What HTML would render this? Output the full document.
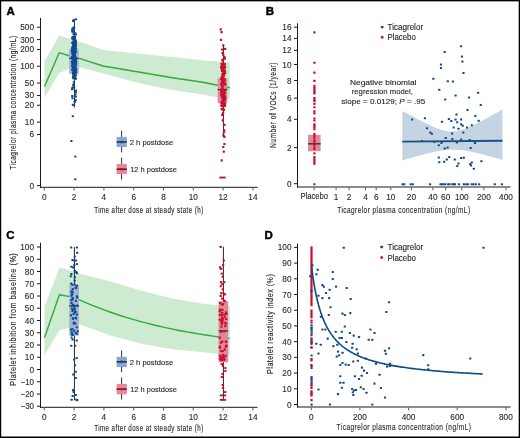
<!DOCTYPE html>
<html><head><meta charset="utf-8"><style>
html,body{margin:0;padding:0;background:#fff;}
body{width:520px;height:438px;overflow:hidden;}
svg{display:block;font-family:"Liberation Sans",sans-serif;will-change:transform;}
</style></head><body>
<svg width="520" height="438" viewBox="0 0 520 438">
<rect x="0" y="0" width="520" height="438" fill="#fff"/>
<text x="6.6" y="15.2" font-size="11.5" font-weight="bold" fill="#000" stroke="#000" stroke-width="0.4">A</text>
<polygon points="44.5,61.5 59.2,35.4 74.3,40.2 80,41.7 103.1,50 141.5,54 172.3,57.1 203,60.2 229.8,62.3 229.8,99.4 203,94.6 172.3,90 141.5,83.8 103.1,73.6 80,67.5 74.3,66.6 59.2,73.1 44.5,98.1" fill="#cdebd1"/>
<polyline points="44.5,86.5 59.2,52.7 74.3,57.5 80,58.6 103.1,66 141.5,72.5 172.3,77.7 203,82.3 229.8,87.8" fill="none" stroke="#35a83a" stroke-width="1.4" stroke-linejoin="round"/>
<line x1="40.5" y1="18" x2="40.5" y2="187.8" stroke="#1a1a1a" stroke-width="1"/>
<line x1="40" y1="187.3" x2="257.5" y2="187.3" stroke="#1a1a1a" stroke-width="1"/>
<line x1="37" y1="27.2" x2="40.5" y2="27.2" stroke="#1a1a1a" stroke-width="1"/>
<text x="34" y="30.2" font-size="8.8" text-anchor="end" textLength="13.8" lengthAdjust="spacingAndGlyphs" fill="#2a2a2a" stroke="#2a2a2a" stroke-width="0.12">500</text>
<line x1="37" y1="39.59" x2="40.5" y2="39.59" stroke="#1a1a1a" stroke-width="1"/>
<text x="34" y="42.59" font-size="8.8" text-anchor="end" textLength="13.8" lengthAdjust="spacingAndGlyphs" fill="#2a2a2a" stroke="#2a2a2a" stroke-width="0.12">300</text>
<line x1="37" y1="49.42" x2="40.5" y2="49.42" stroke="#1a1a1a" stroke-width="1"/>
<text x="34" y="52.42" font-size="8.8" text-anchor="end" textLength="13.8" lengthAdjust="spacingAndGlyphs" fill="#2a2a2a" stroke="#2a2a2a" stroke-width="0.12">200</text>
<line x1="37" y1="66.24" x2="40.5" y2="66.24" stroke="#1a1a1a" stroke-width="1"/>
<text x="34" y="69.24" font-size="8.8" text-anchor="end" textLength="13.8" lengthAdjust="spacingAndGlyphs" fill="#2a2a2a" stroke="#2a2a2a" stroke-width="0.12">100</text>
<line x1="37" y1="83.06" x2="40.5" y2="83.06" stroke="#1a1a1a" stroke-width="1"/>
<text x="34" y="86.06" font-size="8.8" text-anchor="end" textLength="9.2" lengthAdjust="spacingAndGlyphs" fill="#2a2a2a" stroke="#2a2a2a" stroke-width="0.12">50</text>
<line x1="37" y1="95.45" x2="40.5" y2="95.45" stroke="#1a1a1a" stroke-width="1"/>
<text x="34" y="98.45" font-size="8.8" text-anchor="end" textLength="9.2" lengthAdjust="spacingAndGlyphs" fill="#2a2a2a" stroke="#2a2a2a" stroke-width="0.12">30</text>
<line x1="37" y1="105.28" x2="40.5" y2="105.28" stroke="#1a1a1a" stroke-width="1"/>
<text x="34" y="108.28" font-size="8.8" text-anchor="end" textLength="9.2" lengthAdjust="spacingAndGlyphs" fill="#2a2a2a" stroke="#2a2a2a" stroke-width="0.12">20</text>
<line x1="37" y1="122.1" x2="40.5" y2="122.1" stroke="#1a1a1a" stroke-width="1"/>
<text x="34" y="125.1" font-size="8.8" text-anchor="end" textLength="9.2" lengthAdjust="spacingAndGlyphs" fill="#2a2a2a" stroke="#2a2a2a" stroke-width="0.12">10</text>
<line x1="37" y1="134.49" x2="40.5" y2="134.49" stroke="#1a1a1a" stroke-width="1"/>
<text x="34" y="137.49" font-size="8.8" text-anchor="end" textLength="4.6" lengthAdjust="spacingAndGlyphs" fill="#2a2a2a" stroke="#2a2a2a" stroke-width="0.12">6</text>
<line x1="37" y1="185.6" x2="40.5" y2="185.6" stroke="#1a1a1a" stroke-width="1"/>
<text x="34" y="188.6" font-size="8.8" text-anchor="end" textLength="4.6" lengthAdjust="spacingAndGlyphs" fill="#2a2a2a" stroke="#2a2a2a" stroke-width="0.12">0</text>
<line x1="44.3" y1="187.5" x2="44.3" y2="190.6" stroke="#666" stroke-width="1.1"/>
<text x="44.3" y="199.9" font-size="8.8" text-anchor="middle" textLength="4.6" lengthAdjust="spacingAndGlyphs" fill="#2a2a2a" stroke="#2a2a2a" stroke-width="0.12">0</text>
<line x1="74.1" y1="187.5" x2="74.1" y2="190.6" stroke="#666" stroke-width="1.1"/>
<text x="74.1" y="199.9" font-size="8.8" text-anchor="middle" textLength="4.6" lengthAdjust="spacingAndGlyphs" fill="#2a2a2a" stroke="#2a2a2a" stroke-width="0.12">2</text>
<line x1="103.9" y1="187.5" x2="103.9" y2="190.6" stroke="#666" stroke-width="1.1"/>
<text x="103.9" y="199.9" font-size="8.8" text-anchor="middle" textLength="4.6" lengthAdjust="spacingAndGlyphs" fill="#2a2a2a" stroke="#2a2a2a" stroke-width="0.12">4</text>
<line x1="133.7" y1="187.5" x2="133.7" y2="190.6" stroke="#666" stroke-width="1.1"/>
<text x="133.7" y="199.9" font-size="8.8" text-anchor="middle" textLength="4.6" lengthAdjust="spacingAndGlyphs" fill="#2a2a2a" stroke="#2a2a2a" stroke-width="0.12">6</text>
<line x1="163.5" y1="187.5" x2="163.5" y2="190.6" stroke="#666" stroke-width="1.1"/>
<text x="163.5" y="199.9" font-size="8.8" text-anchor="middle" textLength="4.6" lengthAdjust="spacingAndGlyphs" fill="#2a2a2a" stroke="#2a2a2a" stroke-width="0.12">8</text>
<line x1="193.3" y1="187.5" x2="193.3" y2="190.6" stroke="#666" stroke-width="1.1"/>
<text x="193.3" y="199.9" font-size="8.8" text-anchor="middle" textLength="9.2" lengthAdjust="spacingAndGlyphs" fill="#2a2a2a" stroke="#2a2a2a" stroke-width="0.12">10</text>
<line x1="223.1" y1="187.5" x2="223.1" y2="190.6" stroke="#666" stroke-width="1.1"/>
<text x="223.1" y="199.9" font-size="8.8" text-anchor="middle" textLength="9.2" lengthAdjust="spacingAndGlyphs" fill="#2a2a2a" stroke="#2a2a2a" stroke-width="0.12">12</text>
<line x1="252.9" y1="187.5" x2="252.9" y2="190.6" stroke="#666" stroke-width="1.1"/>
<text x="252.9" y="199.9" font-size="8.8" text-anchor="middle" textLength="9.2" lengthAdjust="spacingAndGlyphs" fill="#2a2a2a" stroke="#2a2a2a" stroke-width="0.12">14</text>
<text x="148.9" y="212.9" font-size="9.8" text-anchor="middle" textLength="109.5" lengthAdjust="spacingAndGlyphs" fill="#231f20" stroke="#231f20" stroke-width="0.14" letter-spacing="0.7">Time after dose at steady state (h)</text>
<text x="16.3" y="102.5" font-size="9.8" text-anchor="middle" textLength="134" lengthAdjust="spacingAndGlyphs" transform="rotate(-90 16.3 102.5)" fill="#231f20" stroke="#231f20" stroke-width="0.14" letter-spacing="0.7">Ticagrelor plasma concentration (ng/mL)</text>
<line x1="74.45" y1="19.5" x2="74.45" y2="107.5" stroke="#3a3a3a" stroke-width="1.1"/>
<rect x="69.1" y="48.8" width="9.7" height="25" fill="#a0b6d6"/>
<line x1="69.1" y1="58.3" x2="78.8" y2="58.3" stroke="#333" stroke-width="1.3"/>
<rect x="74.9" y="18.28" width="2.2" height="2.05" rx="0.55" fill="#114a8c"/>
<rect x="72.6" y="19.08" width="2.2" height="2.05" rx="0.55" fill="#114a8c"/>
<rect x="72" y="19.88" width="2.2" height="2.05" rx="0.55" fill="#114a8c"/>
<rect x="71.45" y="27.56" width="2.3" height="2.15" rx="0.55" fill="#114a8c"/>
<rect x="71.14" y="28.7" width="2.3" height="2.15" rx="0.55" fill="#114a8c"/>
<rect x="72.31" y="28.3" width="2.3" height="2.15" rx="0.55" fill="#114a8c"/>
<rect x="72.88" y="26.63" width="2.3" height="2.15" rx="0.55" fill="#114a8c"/>
<rect x="72.58" y="26.56" width="2.3" height="2.15" rx="0.55" fill="#114a8c"/>
<rect x="71.21" y="30.31" width="2.3" height="2.15" rx="0.55" fill="#114a8c"/>
<rect x="74.16" y="32.26" width="2.3" height="2.15" rx="0.55" fill="#114a8c"/>
<rect x="71.74" y="30.61" width="2.3" height="2.15" rx="0.55" fill="#114a8c"/>
<rect x="74.64" y="33.38" width="2.3" height="2.15" rx="0.55" fill="#114a8c"/>
<rect x="72.43" y="33.1" width="2.3" height="2.15" rx="0.55" fill="#114a8c"/>
<rect x="71.03" y="46.65" width="2.3" height="2.15" rx="0.55" fill="#114a8c"/>
<rect x="72.01" y="45.3" width="2.3" height="2.15" rx="0.55" fill="#114a8c"/>
<rect x="71.32" y="37.09" width="2.3" height="2.15" rx="0.55" fill="#114a8c"/>
<rect x="74.11" y="38.97" width="2.3" height="2.15" rx="0.55" fill="#114a8c"/>
<rect x="73.17" y="37.5" width="2.3" height="2.15" rx="0.55" fill="#114a8c"/>
<rect x="72.34" y="42.77" width="2.3" height="2.15" rx="0.55" fill="#114a8c"/>
<rect x="71.1" y="41.73" width="2.3" height="2.15" rx="0.55" fill="#114a8c"/>
<rect x="71.67" y="36.11" width="2.3" height="2.15" rx="0.55" fill="#114a8c"/>
<rect x="72.56" y="43.25" width="2.3" height="2.15" rx="0.55" fill="#114a8c"/>
<rect x="73.19" y="39.04" width="2.3" height="2.15" rx="0.55" fill="#114a8c"/>
<rect x="72.05" y="40.64" width="2.3" height="2.15" rx="0.55" fill="#114a8c"/>
<rect x="73.64" y="44.56" width="2.3" height="2.15" rx="0.55" fill="#114a8c"/>
<rect x="73.15" y="38.23" width="2.3" height="2.15" rx="0.55" fill="#114a8c"/>
<rect x="74.35" y="41.47" width="2.3" height="2.15" rx="0.55" fill="#114a8c"/>
<rect x="72" y="43.81" width="2.3" height="2.15" rx="0.55" fill="#114a8c"/>
<rect x="71.32" y="46.7" width="2.3" height="2.15" rx="0.55" fill="#114a8c"/>
<rect x="73.88" y="40.23" width="2.3" height="2.15" rx="0.55" fill="#114a8c"/>
<rect x="72.8" y="37.17" width="2.3" height="2.15" rx="0.55" fill="#114a8c"/>
<rect x="73.52" y="35.88" width="2.3" height="2.15" rx="0.55" fill="#114a8c"/>
<rect x="73.14" y="44.22" width="2.3" height="2.15" rx="0.55" fill="#114a8c"/>
<rect x="72.1" y="45.49" width="2.3" height="2.15" rx="0.55" fill="#114a8c"/>
<rect x="73.23" y="43.42" width="2.3" height="2.15" rx="0.55" fill="#114a8c"/>
<rect x="72.67" y="42.09" width="2.3" height="2.15" rx="0.55" fill="#114a8c"/>
<rect x="74.63" y="45.09" width="2.3" height="2.15" rx="0.55" fill="#114a8c"/>
<rect x="73.5" y="40.88" width="2.3" height="2.15" rx="0.55" fill="#114a8c"/>
<rect x="73.65" y="36.12" width="2.3" height="2.15" rx="0.55" fill="#114a8c"/>
<rect x="74.82" y="42.87" width="2.3" height="2.15" rx="0.55" fill="#114a8c"/>
<rect x="71.99" y="44.88" width="2.3" height="2.15" rx="0.55" fill="#114a8c"/>
<rect x="73.52" y="39.86" width="2.3" height="2.15" rx="0.55" fill="#114a8c"/>
<rect x="72.69" y="35.69" width="2.3" height="2.15" rx="0.55" fill="#114a8c"/>
<rect x="71.32" y="37.36" width="2.3" height="2.15" rx="0.55" fill="#114a8c"/>
<rect x="73.92" y="36.1" width="2.3" height="2.15" rx="0.55" fill="#114a8c"/>
<rect x="71.84" y="36.91" width="2.3" height="2.15" rx="0.55" fill="#114a8c"/>
<rect x="74.33" y="39.92" width="2.3" height="2.15" rx="0.55" fill="#114a8c"/>
<rect x="72.64" y="36.35" width="2.3" height="2.15" rx="0.55" fill="#114a8c"/>
<rect x="74.38" y="41.74" width="2.3" height="2.15" rx="0.55" fill="#114a8c"/>
<rect x="74.3" y="44.85" width="2.3" height="2.15" rx="0.55" fill="#114a8c"/>
<rect x="72.51" y="38.63" width="2.3" height="2.15" rx="0.55" fill="#114a8c"/>
<rect x="74.38" y="39.55" width="2.3" height="2.15" rx="0.55" fill="#114a8c"/>
<rect x="71.45" y="46.44" width="2.3" height="2.15" rx="0.55" fill="#114a8c"/>
<rect x="71.78" y="51.51" width="2.3" height="2.15" rx="0.55" fill="#114a8c"/>
<rect x="72.79" y="52.99" width="2.3" height="2.15" rx="0.55" fill="#114a8c"/>
<rect x="71.9" y="62.24" width="2.3" height="2.15" rx="0.55" fill="#114a8c"/>
<rect x="72.52" y="47.03" width="2.3" height="2.15" rx="0.55" fill="#114a8c"/>
<rect x="73.11" y="56.53" width="2.3" height="2.15" rx="0.55" fill="#114a8c"/>
<rect x="73.61" y="71.71" width="2.3" height="2.15" rx="0.55" fill="#114a8c"/>
<rect x="73.32" y="60.33" width="2.3" height="2.15" rx="0.55" fill="#114a8c"/>
<rect x="71.06" y="64.51" width="2.3" height="2.15" rx="0.55" fill="#114a8c"/>
<rect x="73.97" y="70.31" width="2.3" height="2.15" rx="0.55" fill="#114a8c"/>
<rect x="74.04" y="69.66" width="2.3" height="2.15" rx="0.55" fill="#114a8c"/>
<rect x="72.44" y="57.13" width="2.3" height="2.15" rx="0.55" fill="#114a8c"/>
<rect x="73.38" y="49.62" width="2.3" height="2.15" rx="0.55" fill="#114a8c"/>
<rect x="71.12" y="48.54" width="2.3" height="2.15" rx="0.55" fill="#114a8c"/>
<rect x="71.5" y="52.35" width="2.3" height="2.15" rx="0.55" fill="#114a8c"/>
<rect x="71.06" y="55.77" width="2.3" height="2.15" rx="0.55" fill="#114a8c"/>
<rect x="71.45" y="46.93" width="2.3" height="2.15" rx="0.55" fill="#114a8c"/>
<rect x="72.3" y="49.56" width="2.3" height="2.15" rx="0.55" fill="#114a8c"/>
<rect x="74.34" y="47.59" width="2.3" height="2.15" rx="0.55" fill="#114a8c"/>
<rect x="71.44" y="62.89" width="2.3" height="2.15" rx="0.55" fill="#114a8c"/>
<rect x="72.24" y="53.48" width="2.3" height="2.15" rx="0.55" fill="#114a8c"/>
<rect x="71.34" y="56.39" width="2.3" height="2.15" rx="0.55" fill="#114a8c"/>
<rect x="74.82" y="69" width="2.3" height="2.15" rx="0.55" fill="#114a8c"/>
<rect x="72.78" y="59.04" width="2.3" height="2.15" rx="0.55" fill="#114a8c"/>
<rect x="71.26" y="49.16" width="2.3" height="2.15" rx="0.55" fill="#114a8c"/>
<rect x="71.91" y="55.83" width="2.3" height="2.15" rx="0.55" fill="#114a8c"/>
<rect x="71.49" y="68.48" width="2.3" height="2.15" rx="0.55" fill="#114a8c"/>
<rect x="74.65" y="47.53" width="2.3" height="2.15" rx="0.55" fill="#114a8c"/>
<rect x="71.43" y="60.66" width="2.3" height="2.15" rx="0.55" fill="#114a8c"/>
<rect x="70.96" y="61.05" width="2.3" height="2.15" rx="0.55" fill="#114a8c"/>
<rect x="74.76" y="60.66" width="2.3" height="2.15" rx="0.55" fill="#114a8c"/>
<rect x="73.63" y="69.37" width="2.3" height="2.15" rx="0.55" fill="#114a8c"/>
<rect x="72.31" y="53.72" width="2.3" height="2.15" rx="0.55" fill="#114a8c"/>
<rect x="73.94" y="51.27" width="2.3" height="2.15" rx="0.55" fill="#114a8c"/>
<rect x="73.96" y="60.77" width="2.3" height="2.15" rx="0.55" fill="#114a8c"/>
<rect x="71.74" y="55.5" width="2.3" height="2.15" rx="0.55" fill="#114a8c"/>
<rect x="74.79" y="68.03" width="2.3" height="2.15" rx="0.55" fill="#114a8c"/>
<rect x="74.07" y="69.09" width="2.3" height="2.15" rx="0.55" fill="#114a8c"/>
<rect x="73.81" y="68.2" width="2.3" height="2.15" rx="0.55" fill="#114a8c"/>
<rect x="72.92" y="52.82" width="2.3" height="2.15" rx="0.55" fill="#114a8c"/>
<rect x="70.96" y="56.17" width="2.3" height="2.15" rx="0.55" fill="#114a8c"/>
<rect x="71.97" y="47.65" width="2.3" height="2.15" rx="0.55" fill="#114a8c"/>
<rect x="73.62" y="53.66" width="2.3" height="2.15" rx="0.55" fill="#114a8c"/>
<rect x="72.64" y="71.8" width="2.3" height="2.15" rx="0.55" fill="#114a8c"/>
<rect x="74.8" y="71.29" width="2.3" height="2.15" rx="0.55" fill="#114a8c"/>
<rect x="72.31" y="71.76" width="2.3" height="2.15" rx="0.55" fill="#114a8c"/>
<rect x="71.76" y="52.66" width="2.3" height="2.15" rx="0.55" fill="#114a8c"/>
<rect x="71.67" y="52.04" width="2.3" height="2.15" rx="0.55" fill="#114a8c"/>
<rect x="74.45" y="63.15" width="2.3" height="2.15" rx="0.55" fill="#114a8c"/>
<rect x="72.77" y="68.78" width="2.3" height="2.15" rx="0.55" fill="#114a8c"/>
<rect x="74.05" y="63.9" width="2.3" height="2.15" rx="0.55" fill="#114a8c"/>
<rect x="73.49" y="49.13" width="2.3" height="2.15" rx="0.55" fill="#114a8c"/>
<rect x="73.98" y="70.58" width="2.3" height="2.15" rx="0.55" fill="#114a8c"/>
<rect x="72.76" y="66.43" width="2.3" height="2.15" rx="0.55" fill="#114a8c"/>
<rect x="74" y="51.57" width="2.3" height="2.15" rx="0.55" fill="#114a8c"/>
<rect x="74.05" y="55.57" width="2.3" height="2.15" rx="0.55" fill="#114a8c"/>
<rect x="72.43" y="72.19" width="2.3" height="2.15" rx="0.55" fill="#114a8c"/>
<rect x="74.63" y="57.36" width="2.3" height="2.15" rx="0.55" fill="#114a8c"/>
<rect x="71.53" y="65.77" width="2.3" height="2.15" rx="0.55" fill="#114a8c"/>
<rect x="71.45" y="50.23" width="2.3" height="2.15" rx="0.55" fill="#114a8c"/>
<rect x="74.07" y="70.45" width="2.3" height="2.15" rx="0.55" fill="#114a8c"/>
<rect x="74.15" y="50.73" width="2.3" height="2.15" rx="0.55" fill="#114a8c"/>
<rect x="73.48" y="72.41" width="2.3" height="2.15" rx="0.55" fill="#114a8c"/>
<rect x="73.04" y="56.04" width="2.3" height="2.15" rx="0.55" fill="#114a8c"/>
<rect x="70.9" y="50.33" width="2.3" height="2.15" rx="0.55" fill="#114a8c"/>
<rect x="73.45" y="72.17" width="2.3" height="2.15" rx="0.55" fill="#114a8c"/>
<rect x="74.58" y="60.62" width="2.3" height="2.15" rx="0.55" fill="#114a8c"/>
<rect x="74.33" y="58.21" width="2.3" height="2.15" rx="0.55" fill="#114a8c"/>
<rect x="71.69" y="68.41" width="2.3" height="2.15" rx="0.55" fill="#114a8c"/>
<rect x="72.02" y="53.47" width="2.3" height="2.15" rx="0.55" fill="#114a8c"/>
<rect x="73.19" y="53.18" width="2.3" height="2.15" rx="0.55" fill="#114a8c"/>
<rect x="72.52" y="53.67" width="2.3" height="2.15" rx="0.55" fill="#114a8c"/>
<rect x="74.49" y="50.33" width="2.3" height="2.15" rx="0.55" fill="#114a8c"/>
<rect x="72.68" y="56.12" width="2.3" height="2.15" rx="0.55" fill="#114a8c"/>
<rect x="74.46" y="62.09" width="2.3" height="2.15" rx="0.55" fill="#114a8c"/>
<rect x="74.52" y="57.86" width="2.3" height="2.15" rx="0.55" fill="#114a8c"/>
<rect x="72.97" y="59.97" width="2.3" height="2.15" rx="0.55" fill="#114a8c"/>
<rect x="70.92" y="60.54" width="2.3" height="2.15" rx="0.55" fill="#114a8c"/>
<rect x="71.58" y="58.37" width="2.3" height="2.15" rx="0.55" fill="#114a8c"/>
<rect x="74.04" y="47.03" width="2.3" height="2.15" rx="0.55" fill="#114a8c"/>
<rect x="72.74" y="51.41" width="2.3" height="2.15" rx="0.55" fill="#114a8c"/>
<rect x="73.07" y="65.78" width="2.3" height="2.15" rx="0.55" fill="#114a8c"/>
<rect x="72.92" y="55.4" width="2.3" height="2.15" rx="0.55" fill="#114a8c"/>
<rect x="73.98" y="61.37" width="2.3" height="2.15" rx="0.55" fill="#114a8c"/>
<rect x="73.09" y="49.69" width="2.3" height="2.15" rx="0.55" fill="#114a8c"/>
<rect x="71.96" y="53.39" width="2.3" height="2.15" rx="0.55" fill="#114a8c"/>
<rect x="72.88" y="67" width="2.3" height="2.15" rx="0.55" fill="#114a8c"/>
<rect x="73.89" y="61.53" width="2.3" height="2.15" rx="0.55" fill="#114a8c"/>
<rect x="72.62" y="70.65" width="2.3" height="2.15" rx="0.55" fill="#114a8c"/>
<rect x="72.87" y="62.85" width="2.3" height="2.15" rx="0.55" fill="#114a8c"/>
<rect x="73.62" y="60.24" width="2.3" height="2.15" rx="0.55" fill="#114a8c"/>
<rect x="72.98" y="58.69" width="2.3" height="2.15" rx="0.55" fill="#114a8c"/>
<rect x="74.61" y="59.36" width="2.3" height="2.15" rx="0.55" fill="#114a8c"/>
<rect x="74.35" y="65.11" width="2.3" height="2.15" rx="0.55" fill="#114a8c"/>
<rect x="71.89" y="71.42" width="2.3" height="2.15" rx="0.55" fill="#114a8c"/>
<rect x="74.62" y="61.47" width="2.3" height="2.15" rx="0.55" fill="#114a8c"/>
<rect x="71.4" y="68.77" width="2.3" height="2.15" rx="0.55" fill="#114a8c"/>
<rect x="72.62" y="50.09" width="2.3" height="2.15" rx="0.55" fill="#114a8c"/>
<rect x="71.81" y="48.81" width="2.3" height="2.15" rx="0.55" fill="#114a8c"/>
<rect x="73.53" y="48.83" width="2.3" height="2.15" rx="0.55" fill="#114a8c"/>
<rect x="74.44" y="67.31" width="2.3" height="2.15" rx="0.55" fill="#114a8c"/>
<rect x="73.71" y="76.17" width="2.3" height="2.15" rx="0.55" fill="#114a8c"/>
<rect x="71.42" y="86.79" width="2.3" height="2.15" rx="0.55" fill="#114a8c"/>
<rect x="74.72" y="91.47" width="2.3" height="2.15" rx="0.55" fill="#114a8c"/>
<rect x="74.66" y="77.54" width="2.3" height="2.15" rx="0.55" fill="#114a8c"/>
<rect x="72.8" y="81.29" width="2.3" height="2.15" rx="0.55" fill="#114a8c"/>
<rect x="74.18" y="93.71" width="2.3" height="2.15" rx="0.55" fill="#114a8c"/>
<rect x="72.57" y="76.32" width="2.3" height="2.15" rx="0.55" fill="#114a8c"/>
<rect x="72.2" y="83.75" width="2.3" height="2.15" rx="0.55" fill="#114a8c"/>
<rect x="72.12" y="77.04" width="2.3" height="2.15" rx="0.55" fill="#114a8c"/>
<rect x="70.93" y="88.09" width="2.3" height="2.15" rx="0.55" fill="#114a8c"/>
<rect x="72.61" y="84.56" width="2.3" height="2.15" rx="0.55" fill="#114a8c"/>
<rect x="72.17" y="73.31" width="2.3" height="2.15" rx="0.55" fill="#114a8c"/>
<rect x="72.9" y="86.03" width="2.3" height="2.15" rx="0.55" fill="#114a8c"/>
<rect x="74.79" y="74.28" width="2.3" height="2.15" rx="0.55" fill="#114a8c"/>
<rect x="74.73" y="89.48" width="2.3" height="2.15" rx="0.55" fill="#114a8c"/>
<rect x="71.91" y="75.13" width="2.3" height="2.15" rx="0.55" fill="#114a8c"/>
<rect x="73.96" y="73.76" width="2.3" height="2.15" rx="0.55" fill="#114a8c"/>
<rect x="71.37" y="97.17" width="2.3" height="2.15" rx="0.55" fill="#114a8c"/>
<rect x="74.49" y="98.99" width="2.3" height="2.15" rx="0.55" fill="#114a8c"/>
<rect x="71.88" y="103.75" width="2.3" height="2.15" rx="0.55" fill="#114a8c"/>
<rect x="74.52" y="95.72" width="2.3" height="2.15" rx="0.55" fill="#114a8c"/>
<rect x="73.65" y="100.77" width="2.3" height="2.15" rx="0.55" fill="#114a8c"/>
<rect x="71.08" y="95" width="2.3" height="2.15" rx="0.55" fill="#114a8c"/>
<rect x="71.7" y="115.17" width="2.2" height="2.05" rx="0.55" fill="#114a8c"/>
<rect x="70.3" y="139.88" width="2.2" height="2.05" rx="0.55" fill="#114a8c"/>
<rect x="74.2" y="155.47" width="2.2" height="2.05" rx="0.55" fill="#114a8c"/>
<rect x="74.2" y="178.28" width="2.2" height="2.05" rx="0.55" fill="#114a8c"/>
<line x1="223.45" y1="45" x2="223.45" y2="137" stroke="#3a3a3a" stroke-width="1.1"/>
<rect x="217.7" y="78.2" width="9.6" height="25" fill="#e0879a"/>
<line x1="217.7" y1="89.5" x2="227.3" y2="89.5" stroke="#333" stroke-width="1.3"/>
<rect x="219.55" y="28.23" width="2.3" height="2.15" rx="0.55" fill="#c8102e"/>
<rect x="220.45" y="31.03" width="2.3" height="2.15" rx="0.55" fill="#c8102e"/>
<rect x="219.85" y="38.83" width="2.3" height="2.15" rx="0.55" fill="#c8102e"/>
<rect x="222.15" y="44.23" width="2.3" height="2.15" rx="0.55" fill="#c8102e"/>
<rect x="223.95" y="47.73" width="2.3" height="2.15" rx="0.55" fill="#c8102e"/>
<rect x="220.95" y="48.43" width="2.3" height="2.15" rx="0.55" fill="#c8102e"/>
<rect x="221.45" y="51.83" width="2.3" height="2.15" rx="0.55" fill="#c8102e"/>
<rect x="222.15" y="53.83" width="2.3" height="2.15" rx="0.55" fill="#c8102e"/>
<rect x="223.25" y="55.93" width="2.3" height="2.15" rx="0.55" fill="#c8102e"/>
<rect x="223.65" y="57.53" width="2.3" height="2.15" rx="0.55" fill="#c8102e"/>
<rect x="221.15" y="58.63" width="2.3" height="2.15" rx="0.55" fill="#c8102e"/>
<rect x="221.85" y="60.03" width="2.3" height="2.15" rx="0.55" fill="#c8102e"/>
<rect x="221.75" y="72.25" width="2.3" height="2.15" rx="0.55" fill="#c8102e"/>
<rect x="223.8" y="63.01" width="2.3" height="2.15" rx="0.55" fill="#c8102e"/>
<rect x="223.25" y="71.44" width="2.3" height="2.15" rx="0.55" fill="#c8102e"/>
<rect x="223.47" y="63.18" width="2.3" height="2.15" rx="0.55" fill="#c8102e"/>
<rect x="223.5" y="62.93" width="2.3" height="2.15" rx="0.55" fill="#c8102e"/>
<rect x="221.4" y="68.73" width="2.3" height="2.15" rx="0.55" fill="#c8102e"/>
<rect x="223.75" y="70.22" width="2.3" height="2.15" rx="0.55" fill="#c8102e"/>
<rect x="220.56" y="65.94" width="2.3" height="2.15" rx="0.55" fill="#c8102e"/>
<rect x="221" y="69.83" width="2.3" height="2.15" rx="0.55" fill="#c8102e"/>
<rect x="220.69" y="63.57" width="2.3" height="2.15" rx="0.55" fill="#c8102e"/>
<rect x="220.85" y="62.68" width="2.3" height="2.15" rx="0.55" fill="#c8102e"/>
<rect x="221.27" y="66.61" width="2.3" height="2.15" rx="0.55" fill="#c8102e"/>
<rect x="221.21" y="73.32" width="2.3" height="2.15" rx="0.55" fill="#c8102e"/>
<rect x="220.76" y="69.43" width="2.3" height="2.15" rx="0.55" fill="#c8102e"/>
<rect x="220.12" y="67.13" width="2.3" height="2.15" rx="0.55" fill="#c8102e"/>
<rect x="220.11" y="65.68" width="2.3" height="2.15" rx="0.55" fill="#c8102e"/>
<rect x="222.25" y="72.92" width="2.3" height="2.15" rx="0.55" fill="#c8102e"/>
<rect x="221.95" y="64.77" width="2.3" height="2.15" rx="0.55" fill="#c8102e"/>
<rect x="220.47" y="75.95" width="2.3" height="2.15" rx="0.55" fill="#c8102e"/>
<rect x="221.78" y="74.21" width="2.3" height="2.15" rx="0.55" fill="#c8102e"/>
<rect x="223.39" y="69.35" width="2.3" height="2.15" rx="0.55" fill="#c8102e"/>
<rect x="222.07" y="67.82" width="2.3" height="2.15" rx="0.55" fill="#c8102e"/>
<rect x="223.98" y="72.24" width="2.3" height="2.15" rx="0.55" fill="#c8102e"/>
<rect x="223.38" y="67.07" width="2.3" height="2.15" rx="0.55" fill="#c8102e"/>
<rect x="222.59" y="72.53" width="2.3" height="2.15" rx="0.55" fill="#c8102e"/>
<rect x="221.44" y="68" width="2.3" height="2.15" rx="0.55" fill="#c8102e"/>
<rect x="220.57" y="62.74" width="2.3" height="2.15" rx="0.55" fill="#c8102e"/>
<rect x="223.01" y="62.99" width="2.3" height="2.15" rx="0.55" fill="#c8102e"/>
<rect x="220.7" y="65.76" width="2.3" height="2.15" rx="0.55" fill="#c8102e"/>
<rect x="223.41" y="63.19" width="2.3" height="2.15" rx="0.55" fill="#c8102e"/>
<rect x="222.73" y="74.98" width="2.3" height="2.15" rx="0.55" fill="#c8102e"/>
<rect x="221.02" y="66.16" width="2.3" height="2.15" rx="0.55" fill="#c8102e"/>
<rect x="221.89" y="66.32" width="2.3" height="2.15" rx="0.55" fill="#c8102e"/>
<rect x="221.83" y="64.29" width="2.3" height="2.15" rx="0.55" fill="#c8102e"/>
<rect x="223.89" y="65.87" width="2.3" height="2.15" rx="0.55" fill="#c8102e"/>
<rect x="222.24" y="102.21" width="2.3" height="2.15" rx="0.55" fill="#c8102e"/>
<rect x="223.91" y="83.28" width="2.3" height="2.15" rx="0.55" fill="#c8102e"/>
<rect x="221.47" y="84.97" width="2.3" height="2.15" rx="0.55" fill="#c8102e"/>
<rect x="221.57" y="76.95" width="2.3" height="2.15" rx="0.55" fill="#c8102e"/>
<rect x="222.06" y="89.27" width="2.3" height="2.15" rx="0.55" fill="#c8102e"/>
<rect x="222.07" y="82.15" width="2.3" height="2.15" rx="0.55" fill="#c8102e"/>
<rect x="221.1" y="77.05" width="2.3" height="2.15" rx="0.55" fill="#c8102e"/>
<rect x="221.65" y="79.26" width="2.3" height="2.15" rx="0.55" fill="#c8102e"/>
<rect x="220.14" y="78.01" width="2.3" height="2.15" rx="0.55" fill="#c8102e"/>
<rect x="220.98" y="84.84" width="2.3" height="2.15" rx="0.55" fill="#c8102e"/>
<rect x="222.16" y="92.15" width="2.3" height="2.15" rx="0.55" fill="#c8102e"/>
<rect x="222.68" y="96.44" width="2.3" height="2.15" rx="0.55" fill="#c8102e"/>
<rect x="223.56" y="95.54" width="2.3" height="2.15" rx="0.55" fill="#c8102e"/>
<rect x="221.35" y="87.05" width="2.3" height="2.15" rx="0.55" fill="#c8102e"/>
<rect x="220.65" y="102.53" width="2.3" height="2.15" rx="0.55" fill="#c8102e"/>
<rect x="222.62" y="95.75" width="2.3" height="2.15" rx="0.55" fill="#c8102e"/>
<rect x="223.39" y="78.06" width="2.3" height="2.15" rx="0.55" fill="#c8102e"/>
<rect x="222.56" y="100.12" width="2.3" height="2.15" rx="0.55" fill="#c8102e"/>
<rect x="223.3" y="96.01" width="2.3" height="2.15" rx="0.55" fill="#c8102e"/>
<rect x="222.14" y="80.55" width="2.3" height="2.15" rx="0.55" fill="#c8102e"/>
<rect x="223.39" y="90.04" width="2.3" height="2.15" rx="0.55" fill="#c8102e"/>
<rect x="223.35" y="97.85" width="2.3" height="2.15" rx="0.55" fill="#c8102e"/>
<rect x="223.62" y="92.11" width="2.3" height="2.15" rx="0.55" fill="#c8102e"/>
<rect x="222.82" y="94.68" width="2.3" height="2.15" rx="0.55" fill="#c8102e"/>
<rect x="220.17" y="82.9" width="2.3" height="2.15" rx="0.55" fill="#c8102e"/>
<rect x="221.49" y="80.39" width="2.3" height="2.15" rx="0.55" fill="#c8102e"/>
<rect x="223.39" y="79.65" width="2.3" height="2.15" rx="0.55" fill="#c8102e"/>
<rect x="222.56" y="91.45" width="2.3" height="2.15" rx="0.55" fill="#c8102e"/>
<rect x="222.77" y="93.21" width="2.3" height="2.15" rx="0.55" fill="#c8102e"/>
<rect x="220.06" y="89.65" width="2.3" height="2.15" rx="0.55" fill="#c8102e"/>
<rect x="223.04" y="97.67" width="2.3" height="2.15" rx="0.55" fill="#c8102e"/>
<rect x="222.19" y="90" width="2.3" height="2.15" rx="0.55" fill="#c8102e"/>
<rect x="220.31" y="94.07" width="2.3" height="2.15" rx="0.55" fill="#c8102e"/>
<rect x="221.06" y="96.08" width="2.3" height="2.15" rx="0.55" fill="#c8102e"/>
<rect x="221.11" y="78.86" width="2.3" height="2.15" rx="0.55" fill="#c8102e"/>
<rect x="220.87" y="95.89" width="2.3" height="2.15" rx="0.55" fill="#c8102e"/>
<rect x="223.95" y="96.16" width="2.3" height="2.15" rx="0.55" fill="#c8102e"/>
<rect x="221.58" y="89.77" width="2.3" height="2.15" rx="0.55" fill="#c8102e"/>
<rect x="222.78" y="89.38" width="2.3" height="2.15" rx="0.55" fill="#c8102e"/>
<rect x="222.52" y="96.87" width="2.3" height="2.15" rx="0.55" fill="#c8102e"/>
<rect x="220.36" y="93.64" width="2.3" height="2.15" rx="0.55" fill="#c8102e"/>
<rect x="221.06" y="80.76" width="2.3" height="2.15" rx="0.55" fill="#c8102e"/>
<rect x="221.27" y="96.25" width="2.3" height="2.15" rx="0.55" fill="#c8102e"/>
<rect x="220.1" y="91.69" width="2.3" height="2.15" rx="0.55" fill="#c8102e"/>
<rect x="221.12" y="78.5" width="2.3" height="2.15" rx="0.55" fill="#c8102e"/>
<rect x="222.82" y="94.4" width="2.3" height="2.15" rx="0.55" fill="#c8102e"/>
<rect x="221.21" y="94.49" width="2.3" height="2.15" rx="0.55" fill="#c8102e"/>
<rect x="221.91" y="90.36" width="2.3" height="2.15" rx="0.55" fill="#c8102e"/>
<rect x="220.52" y="89.05" width="2.3" height="2.15" rx="0.55" fill="#c8102e"/>
<rect x="220.84" y="100.16" width="2.3" height="2.15" rx="0.55" fill="#c8102e"/>
<rect x="223.79" y="102.36" width="2.3" height="2.15" rx="0.55" fill="#c8102e"/>
<rect x="221.88" y="77.38" width="2.3" height="2.15" rx="0.55" fill="#c8102e"/>
<rect x="223.92" y="98.24" width="2.3" height="2.15" rx="0.55" fill="#c8102e"/>
<rect x="221.12" y="88.61" width="2.3" height="2.15" rx="0.55" fill="#c8102e"/>
<rect x="223.83" y="82.38" width="2.3" height="2.15" rx="0.55" fill="#c8102e"/>
<rect x="222.37" y="82.4" width="2.3" height="2.15" rx="0.55" fill="#c8102e"/>
<rect x="222.14" y="80.61" width="2.3" height="2.15" rx="0.55" fill="#c8102e"/>
<rect x="220.58" y="101.7" width="2.3" height="2.15" rx="0.55" fill="#c8102e"/>
<rect x="222.08" y="98.25" width="2.3" height="2.15" rx="0.55" fill="#c8102e"/>
<rect x="222.86" y="99.98" width="2.3" height="2.15" rx="0.55" fill="#c8102e"/>
<rect x="223.64" y="82.94" width="2.3" height="2.15" rx="0.55" fill="#c8102e"/>
<rect x="220.15" y="89.57" width="2.3" height="2.15" rx="0.55" fill="#c8102e"/>
<rect x="222.01" y="77.02" width="2.3" height="2.15" rx="0.55" fill="#c8102e"/>
<rect x="221.26" y="88.65" width="2.3" height="2.15" rx="0.55" fill="#c8102e"/>
<rect x="221.42" y="80.58" width="2.3" height="2.15" rx="0.55" fill="#c8102e"/>
<rect x="223.41" y="104.82" width="2.3" height="2.15" rx="0.55" fill="#c8102e"/>
<rect x="223.05" y="102.94" width="2.3" height="2.15" rx="0.55" fill="#c8102e"/>
<rect x="220.53" y="107.96" width="2.3" height="2.15" rx="0.55" fill="#c8102e"/>
<rect x="222.9" y="108.48" width="2.3" height="2.15" rx="0.55" fill="#c8102e"/>
<rect x="221.21" y="108.34" width="2.3" height="2.15" rx="0.55" fill="#c8102e"/>
<rect x="221.62" y="105.16" width="2.3" height="2.15" rx="0.55" fill="#c8102e"/>
<rect x="222.4" y="108.92" width="2.3" height="2.15" rx="0.55" fill="#c8102e"/>
<rect x="221.76" y="105.09" width="2.3" height="2.15" rx="0.55" fill="#c8102e"/>
<rect x="220.24" y="104.58" width="2.3" height="2.15" rx="0.55" fill="#c8102e"/>
<rect x="223.39" y="103.54" width="2.3" height="2.15" rx="0.55" fill="#c8102e"/>
<rect x="223.79" y="104.64" width="2.3" height="2.15" rx="0.55" fill="#c8102e"/>
<rect x="221.11" y="104.42" width="2.3" height="2.15" rx="0.55" fill="#c8102e"/>
<rect x="221.98" y="111.93" width="2.3" height="2.15" rx="0.55" fill="#c8102e"/>
<rect x="221.02" y="113.73" width="2.3" height="2.15" rx="0.55" fill="#c8102e"/>
<rect x="221.57" y="119.23" width="2.3" height="2.15" rx="0.55" fill="#c8102e"/>
<rect x="223.32" y="123.83" width="2.3" height="2.15" rx="0.55" fill="#c8102e"/>
<rect x="223.1" y="129.33" width="2.3" height="2.15" rx="0.55" fill="#c8102e"/>
<rect x="222.88" y="131.13" width="2.3" height="2.15" rx="0.55" fill="#c8102e"/>
<rect x="222.34" y="134.23" width="2.3" height="2.15" rx="0.55" fill="#c8102e"/>
<rect x="223.19" y="135.73" width="2.3" height="2.15" rx="0.55" fill="#c8102e"/>
<rect x="223.27" y="142.93" width="2.3" height="2.15" rx="0.55" fill="#c8102e"/>
<rect x="222.1" y="145.93" width="2.3" height="2.15" rx="0.55" fill="#c8102e"/>
<rect x="222.61" y="150.53" width="2.3" height="2.15" rx="0.55" fill="#c8102e"/>
<rect x="220.6" y="159.33" width="2.3" height="2.15" rx="0.55" fill="#c8102e"/>
<rect x="219.4" y="176.6" width="6.3" height="1.9" fill="#c8102e"/>
<line x1="121.6" y1="130.6" x2="121.6" y2="152.4" stroke="#333" stroke-width="1"/>
<rect x="116.6" y="136.9" width="10.2" height="10.1" fill="#86a9d4"/>
<line x1="116.6" y1="142" x2="126.8" y2="142" stroke="#333" stroke-width="1.6"/>
<rect x="120.29" y="140.78" width="2.62" height="2.44" rx="0.55" fill="#114a8c"/>
<line x1="121.6" y1="157.6" x2="121.6" y2="179.6" stroke="#333" stroke-width="1"/>
<rect x="116.6" y="163.9" width="10.2" height="10.1" fill="#ec8598"/>
<line x1="116.6" y1="169.2" x2="126.8" y2="169.2" stroke="#333" stroke-width="1.6"/>
<rect x="120.29" y="167.98" width="2.62" height="2.44" rx="0.55" fill="#c8102e"/>
<text x="129.7" y="144.7" font-size="7.6" textLength="43.6" lengthAdjust="spacingAndGlyphs" fill="#231f20" stroke="#231f20" stroke-width="0.12">2 h postdose</text>
<text x="130.2" y="172.4" font-size="7.6" textLength="46.8" lengthAdjust="spacingAndGlyphs" fill="#231f20" stroke="#231f20" stroke-width="0.12">12 h postdose</text>
<text x="6.2" y="239" font-size="11.5" font-weight="bold" fill="#000" stroke="#000" stroke-width="0.4">C</text>
<polygon points="44.5,306.4 59.4,267.5 74.3,271.8 80,273.8 110.8,281.5 141.5,290.8 172.3,298.5 203,303.7 229.8,306.2 229.8,355 203,352.3 172.3,349.2 141.5,343.7 110.8,335.4 80,324.6 74.3,326.5 59.4,330.2 44.5,355.2" fill="#cdebd1"/>
<polyline points="44.5,337.7 59.4,294.8 74.3,297.35 79.48,299.77 84.67,302.09 89.85,304.31 95.03,306.43 100.22,308.46 105.4,310.4 110.58,312.26 115.77,314.03 120.95,315.73 126.13,317.36 131.32,318.91 136.5,320.4 141.68,321.82 146.87,323.18 152.05,324.49 157.23,325.73 162.42,326.92 167.6,328.06 172.78,329.15 177.97,330.19 183.15,331.19 188.33,332.14 193.52,333.06 198.7,333.93 203.88,334.77 209.07,335.56 214.25,336.33 219.43,337.06 224.62,337.76 229.8,338.43" fill="none" stroke="#35a83a" stroke-width="1.4" stroke-linejoin="round"/>
<line x1="40.5" y1="242.8" x2="40.5" y2="407.8" stroke="#1a1a1a" stroke-width="1"/>
<line x1="40" y1="407.3" x2="257.5" y2="407.3" stroke="#1a1a1a" stroke-width="1"/>
<line x1="37" y1="247" x2="40.5" y2="247" stroke="#1a1a1a" stroke-width="1"/>
<text x="34" y="250" font-size="8.8" text-anchor="end" textLength="13.8" lengthAdjust="spacingAndGlyphs" fill="#2a2a2a" stroke="#2a2a2a" stroke-width="0.12">100</text>
<line x1="37" y1="259.25" x2="40.5" y2="259.25" stroke="#1a1a1a" stroke-width="1"/>
<text x="34" y="262.25" font-size="8.8" text-anchor="end" textLength="9.2" lengthAdjust="spacingAndGlyphs" fill="#2a2a2a" stroke="#2a2a2a" stroke-width="0.12">90</text>
<line x1="37" y1="271.5" x2="40.5" y2="271.5" stroke="#1a1a1a" stroke-width="1"/>
<text x="34" y="274.5" font-size="8.8" text-anchor="end" textLength="9.2" lengthAdjust="spacingAndGlyphs" fill="#2a2a2a" stroke="#2a2a2a" stroke-width="0.12">80</text>
<line x1="37" y1="283.75" x2="40.5" y2="283.75" stroke="#1a1a1a" stroke-width="1"/>
<text x="34" y="286.75" font-size="8.8" text-anchor="end" textLength="9.2" lengthAdjust="spacingAndGlyphs" fill="#2a2a2a" stroke="#2a2a2a" stroke-width="0.12">70</text>
<line x1="37" y1="296" x2="40.5" y2="296" stroke="#1a1a1a" stroke-width="1"/>
<text x="34" y="299" font-size="8.8" text-anchor="end" textLength="9.2" lengthAdjust="spacingAndGlyphs" fill="#2a2a2a" stroke="#2a2a2a" stroke-width="0.12">60</text>
<line x1="37" y1="308.25" x2="40.5" y2="308.25" stroke="#1a1a1a" stroke-width="1"/>
<text x="34" y="311.25" font-size="8.8" text-anchor="end" textLength="9.2" lengthAdjust="spacingAndGlyphs" fill="#2a2a2a" stroke="#2a2a2a" stroke-width="0.12">50</text>
<line x1="37" y1="320.5" x2="40.5" y2="320.5" stroke="#1a1a1a" stroke-width="1"/>
<text x="34" y="323.5" font-size="8.8" text-anchor="end" textLength="9.2" lengthAdjust="spacingAndGlyphs" fill="#2a2a2a" stroke="#2a2a2a" stroke-width="0.12">40</text>
<line x1="37" y1="332.75" x2="40.5" y2="332.75" stroke="#1a1a1a" stroke-width="1"/>
<text x="34" y="335.75" font-size="8.8" text-anchor="end" textLength="9.2" lengthAdjust="spacingAndGlyphs" fill="#2a2a2a" stroke="#2a2a2a" stroke-width="0.12">30</text>
<line x1="37" y1="345" x2="40.5" y2="345" stroke="#1a1a1a" stroke-width="1"/>
<text x="34" y="348" font-size="8.8" text-anchor="end" textLength="9.2" lengthAdjust="spacingAndGlyphs" fill="#2a2a2a" stroke="#2a2a2a" stroke-width="0.12">20</text>
<line x1="37" y1="357.25" x2="40.5" y2="357.25" stroke="#1a1a1a" stroke-width="1"/>
<text x="34" y="360.25" font-size="8.8" text-anchor="end" textLength="9.2" lengthAdjust="spacingAndGlyphs" fill="#2a2a2a" stroke="#2a2a2a" stroke-width="0.12">10</text>
<line x1="37" y1="369.5" x2="40.5" y2="369.5" stroke="#1a1a1a" stroke-width="1"/>
<text x="34" y="372.5" font-size="8.8" text-anchor="end" textLength="4.6" lengthAdjust="spacingAndGlyphs" fill="#2a2a2a" stroke="#2a2a2a" stroke-width="0.12">0</text>
<line x1="37" y1="381.75" x2="40.5" y2="381.75" stroke="#1a1a1a" stroke-width="1"/>
<text x="34" y="384.75" font-size="8.8" text-anchor="end" textLength="13.4" lengthAdjust="spacingAndGlyphs" fill="#2a2a2a" stroke="#2a2a2a" stroke-width="0.12">&#8722;10</text>
<line x1="37" y1="394" x2="40.5" y2="394" stroke="#1a1a1a" stroke-width="1"/>
<text x="34" y="397" font-size="8.8" text-anchor="end" textLength="13.4" lengthAdjust="spacingAndGlyphs" fill="#2a2a2a" stroke="#2a2a2a" stroke-width="0.12">&#8722;20</text>
<line x1="37" y1="406.25" x2="40.5" y2="406.25" stroke="#1a1a1a" stroke-width="1"/>
<text x="34" y="409.25" font-size="8.8" text-anchor="end" textLength="13.4" lengthAdjust="spacingAndGlyphs" fill="#2a2a2a" stroke="#2a2a2a" stroke-width="0.12">&#8722;30</text>
<line x1="44.3" y1="407.5" x2="44.3" y2="410.6" stroke="#666" stroke-width="1.1"/>
<text x="44.3" y="419.8" font-size="8.8" text-anchor="middle" textLength="4.6" lengthAdjust="spacingAndGlyphs" fill="#2a2a2a" stroke="#2a2a2a" stroke-width="0.12">0</text>
<line x1="74.1" y1="407.5" x2="74.1" y2="410.6" stroke="#666" stroke-width="1.1"/>
<text x="74.1" y="419.8" font-size="8.8" text-anchor="middle" textLength="4.6" lengthAdjust="spacingAndGlyphs" fill="#2a2a2a" stroke="#2a2a2a" stroke-width="0.12">2</text>
<line x1="103.9" y1="407.5" x2="103.9" y2="410.6" stroke="#666" stroke-width="1.1"/>
<text x="103.9" y="419.8" font-size="8.8" text-anchor="middle" textLength="4.6" lengthAdjust="spacingAndGlyphs" fill="#2a2a2a" stroke="#2a2a2a" stroke-width="0.12">4</text>
<line x1="133.7" y1="407.5" x2="133.7" y2="410.6" stroke="#666" stroke-width="1.1"/>
<text x="133.7" y="419.8" font-size="8.8" text-anchor="middle" textLength="4.6" lengthAdjust="spacingAndGlyphs" fill="#2a2a2a" stroke="#2a2a2a" stroke-width="0.12">6</text>
<line x1="163.5" y1="407.5" x2="163.5" y2="410.6" stroke="#666" stroke-width="1.1"/>
<text x="163.5" y="419.8" font-size="8.8" text-anchor="middle" textLength="4.6" lengthAdjust="spacingAndGlyphs" fill="#2a2a2a" stroke="#2a2a2a" stroke-width="0.12">8</text>
<line x1="193.3" y1="407.5" x2="193.3" y2="410.6" stroke="#666" stroke-width="1.1"/>
<text x="193.3" y="419.8" font-size="8.8" text-anchor="middle" textLength="9.2" lengthAdjust="spacingAndGlyphs" fill="#2a2a2a" stroke="#2a2a2a" stroke-width="0.12">10</text>
<line x1="223.1" y1="407.5" x2="223.1" y2="410.6" stroke="#666" stroke-width="1.1"/>
<text x="223.1" y="419.8" font-size="8.8" text-anchor="middle" textLength="9.2" lengthAdjust="spacingAndGlyphs" fill="#2a2a2a" stroke="#2a2a2a" stroke-width="0.12">12</text>
<line x1="252.9" y1="407.5" x2="252.9" y2="410.6" stroke="#666" stroke-width="1.1"/>
<text x="252.9" y="419.8" font-size="8.8" text-anchor="middle" textLength="9.2" lengthAdjust="spacingAndGlyphs" fill="#2a2a2a" stroke="#2a2a2a" stroke-width="0.12">14</text>
<text x="148.9" y="431.2" font-size="9.8" text-anchor="middle" textLength="109.5" lengthAdjust="spacingAndGlyphs" fill="#231f20" stroke="#231f20" stroke-width="0.14" letter-spacing="0.7">Time after dose at steady state (h)</text>
<text x="16.3" y="319.2" font-size="9.8" text-anchor="middle" textLength="133" lengthAdjust="spacingAndGlyphs" transform="rotate(-90 16.3 319.2)" fill="#231f20" stroke="#231f20" stroke-width="0.14" letter-spacing="0.7">Platelet inhibition from baseline (%)</text>
<line x1="74.45" y1="247.1" x2="74.45" y2="400.3" stroke="#3a3a3a" stroke-width="1.1"/>
<rect x="69.2" y="284.8" width="9.8" height="50.8" fill="#a0b6d6"/>
<line x1="69.2" y1="305.9" x2="79" y2="305.9" stroke="#333" stroke-width="1.3"/>
<rect x="70.1" y="246.38" width="2.2" height="2.05" rx="0.55" fill="#114a8c"/>
<rect x="75.8" y="246.38" width="2.2" height="2.05" rx="0.55" fill="#114a8c"/>
<rect x="76" y="251.78" width="2.2" height="2.05" rx="0.55" fill="#114a8c"/>
<rect x="73.7" y="255.47" width="2.2" height="2.05" rx="0.55" fill="#114a8c"/>
<rect x="71.4" y="258.98" width="2.2" height="2.05" rx="0.55" fill="#114a8c"/>
<rect x="73.2" y="259.48" width="2.2" height="2.05" rx="0.55" fill="#114a8c"/>
<rect x="74.9" y="259.48" width="2.2" height="2.05" rx="0.55" fill="#114a8c"/>
<rect x="75.8" y="262.98" width="2.2" height="2.05" rx="0.55" fill="#114a8c"/>
<rect x="73.2" y="264.08" width="2.2" height="2.05" rx="0.55" fill="#114a8c"/>
<rect x="70.3" y="265.78" width="2.2" height="2.05" rx="0.55" fill="#114a8c"/>
<rect x="72" y="266.38" width="2.2" height="2.05" rx="0.55" fill="#114a8c"/>
<rect x="73.7" y="269.78" width="2.2" height="2.05" rx="0.55" fill="#114a8c"/>
<rect x="75.1" y="270.88" width="2.2" height="2.05" rx="0.55" fill="#114a8c"/>
<rect x="75.8" y="272.08" width="2.2" height="2.05" rx="0.55" fill="#114a8c"/>
<rect x="70.3" y="272.98" width="2.2" height="2.05" rx="0.55" fill="#114a8c"/>
<rect x="69.7" y="275.28" width="2.2" height="2.05" rx="0.55" fill="#114a8c"/>
<rect x="73.7" y="276.08" width="2.2" height="2.05" rx="0.55" fill="#114a8c"/>
<rect x="73.7" y="279.48" width="2.2" height="2.05" rx="0.55" fill="#114a8c"/>
<rect x="70.1" y="282.58" width="2.2" height="2.05" rx="0.55" fill="#114a8c"/>
<rect x="71.4" y="283.68" width="2.2" height="2.05" rx="0.55" fill="#114a8c"/>
<rect x="73.7" y="283.48" width="2.2" height="2.05" rx="0.55" fill="#114a8c"/>
<rect x="75.8" y="284.78" width="2.2" height="2.05" rx="0.55" fill="#114a8c"/>
<rect x="72.87" y="321.59" width="2.2" height="2.05" rx="0.55" fill="#114a8c"/>
<rect x="74.18" y="322.61" width="2.2" height="2.05" rx="0.55" fill="#114a8c"/>
<rect x="70.13" y="299.29" width="2.2" height="2.05" rx="0.55" fill="#114a8c"/>
<rect x="70.67" y="331.31" width="2.2" height="2.05" rx="0.55" fill="#114a8c"/>
<rect x="72.14" y="308.58" width="2.2" height="2.05" rx="0.55" fill="#114a8c"/>
<rect x="74.83" y="299.86" width="2.2" height="2.05" rx="0.55" fill="#114a8c"/>
<rect x="71.57" y="333.79" width="2.2" height="2.05" rx="0.55" fill="#114a8c"/>
<rect x="71.85" y="317.77" width="2.2" height="2.05" rx="0.55" fill="#114a8c"/>
<rect x="72.48" y="312.84" width="2.2" height="2.05" rx="0.55" fill="#114a8c"/>
<rect x="70.9" y="293.34" width="2.2" height="2.05" rx="0.55" fill="#114a8c"/>
<rect x="75.96" y="295.37" width="2.2" height="2.05" rx="0.55" fill="#114a8c"/>
<rect x="71.3" y="309.83" width="2.2" height="2.05" rx="0.55" fill="#114a8c"/>
<rect x="76.58" y="330.29" width="2.2" height="2.05" rx="0.55" fill="#114a8c"/>
<rect x="70.75" y="307.47" width="2.2" height="2.05" rx="0.55" fill="#114a8c"/>
<rect x="70.42" y="294.6" width="2.2" height="2.05" rx="0.55" fill="#114a8c"/>
<rect x="70.42" y="302.07" width="2.2" height="2.05" rx="0.55" fill="#114a8c"/>
<rect x="71.56" y="296.93" width="2.2" height="2.05" rx="0.55" fill="#114a8c"/>
<rect x="75.83" y="313.46" width="2.2" height="2.05" rx="0.55" fill="#114a8c"/>
<rect x="72.61" y="322.46" width="2.2" height="2.05" rx="0.55" fill="#114a8c"/>
<rect x="73.36" y="305.67" width="2.2" height="2.05" rx="0.55" fill="#114a8c"/>
<rect x="72.1" y="303.82" width="2.2" height="2.05" rx="0.55" fill="#114a8c"/>
<rect x="71.69" y="288.08" width="2.2" height="2.05" rx="0.55" fill="#114a8c"/>
<rect x="70.66" y="333.36" width="2.2" height="2.05" rx="0.55" fill="#114a8c"/>
<rect x="74.08" y="310.14" width="2.2" height="2.05" rx="0.55" fill="#114a8c"/>
<rect x="71.27" y="328.12" width="2.2" height="2.05" rx="0.55" fill="#114a8c"/>
<rect x="71.49" y="298.53" width="2.2" height="2.05" rx="0.55" fill="#114a8c"/>
<rect x="72.83" y="304.96" width="2.2" height="2.05" rx="0.55" fill="#114a8c"/>
<rect x="75.57" y="332.67" width="2.2" height="2.05" rx="0.55" fill="#114a8c"/>
<rect x="69.95" y="328.62" width="2.2" height="2.05" rx="0.55" fill="#114a8c"/>
<rect x="74.62" y="286.59" width="2.2" height="2.05" rx="0.55" fill="#114a8c"/>
<rect x="73.02" y="329.76" width="2.2" height="2.05" rx="0.55" fill="#114a8c"/>
<rect x="69.8" y="314.33" width="2.2" height="2.05" rx="0.55" fill="#114a8c"/>
<rect x="76.1" y="304.55" width="2.2" height="2.05" rx="0.55" fill="#114a8c"/>
<rect x="75.62" y="326.25" width="2.2" height="2.05" rx="0.55" fill="#114a8c"/>
<rect x="71.49" y="333.59" width="2.2" height="2.05" rx="0.55" fill="#114a8c"/>
<rect x="70.85" y="290.43" width="2.2" height="2.05" rx="0.55" fill="#114a8c"/>
<rect x="74.44" y="311.09" width="2.2" height="2.05" rx="0.55" fill="#114a8c"/>
<rect x="74.71" y="332.05" width="2.2" height="2.05" rx="0.55" fill="#114a8c"/>
<rect x="75" y="317.34" width="2.2" height="2.05" rx="0.55" fill="#114a8c"/>
<rect x="73.55" y="307.84" width="2.2" height="2.05" rx="0.55" fill="#114a8c"/>
<rect x="75.12" y="286.95" width="2.2" height="2.05" rx="0.55" fill="#114a8c"/>
<rect x="76.06" y="296.6" width="2.2" height="2.05" rx="0.55" fill="#114a8c"/>
<rect x="71.87" y="317.25" width="2.2" height="2.05" rx="0.55" fill="#114a8c"/>
<rect x="71.51" y="291.37" width="2.2" height="2.05" rx="0.55" fill="#114a8c"/>
<rect x="74.55" y="316.79" width="2.2" height="2.05" rx="0.55" fill="#114a8c"/>
<rect x="70.28" y="290.58" width="2.2" height="2.05" rx="0.55" fill="#114a8c"/>
<rect x="73.76" y="311.2" width="2.2" height="2.05" rx="0.55" fill="#114a8c"/>
<rect x="71.32" y="304.38" width="2.2" height="2.05" rx="0.55" fill="#114a8c"/>
<rect x="70.5" y="336.48" width="2.2" height="2.05" rx="0.55" fill="#114a8c"/>
<rect x="71.5" y="338.48" width="2.2" height="2.05" rx="0.55" fill="#114a8c"/>
<rect x="75.6" y="339.48" width="2.2" height="2.05" rx="0.55" fill="#114a8c"/>
<rect x="70.1" y="344.68" width="2.2" height="2.05" rx="0.55" fill="#114a8c"/>
<rect x="74" y="344.68" width="2.2" height="2.05" rx="0.55" fill="#114a8c"/>
<rect x="73.1" y="358.38" width="2.2" height="2.05" rx="0.55" fill="#114a8c"/>
<rect x="75.6" y="356.98" width="2.2" height="2.05" rx="0.55" fill="#114a8c"/>
<rect x="74" y="364.18" width="2.2" height="2.05" rx="0.55" fill="#114a8c"/>
<rect x="72.1" y="373.38" width="2.2" height="2.05" rx="0.55" fill="#114a8c"/>
<rect x="74.6" y="370.78" width="2.2" height="2.05" rx="0.55" fill="#114a8c"/>
<rect x="74.6" y="376.88" width="2.2" height="2.05" rx="0.55" fill="#114a8c"/>
<rect x="71.9" y="388.88" width="2.2" height="2.05" rx="0.55" fill="#114a8c"/>
<rect x="72.5" y="390.88" width="2.2" height="2.05" rx="0.55" fill="#114a8c"/>
<rect x="74.6" y="393.98" width="2.2" height="2.05" rx="0.55" fill="#114a8c"/>
<rect x="71.5" y="394.98" width="2.2" height="2.05" rx="0.55" fill="#114a8c"/>
<rect x="70.5" y="398.68" width="2.2" height="2.05" rx="0.55" fill="#114a8c"/>
<rect x="75.2" y="398.68" width="2.2" height="2.05" rx="0.55" fill="#114a8c"/>
<rect x="76.2" y="399.08" width="2.2" height="2.05" rx="0.55" fill="#114a8c"/>
<line x1="223.45" y1="246.8" x2="223.45" y2="400.4" stroke="#3a3a3a" stroke-width="1.1"/>
<rect x="218.6" y="301.2" width="9.6" height="61.1" fill="#e0879a"/>
<line x1="218.6" y1="330.8" x2="228.2" y2="330.8" stroke="#333" stroke-width="1.3"/>
<rect x="219.55" y="245.73" width="2.3" height="2.15" rx="0.55" fill="#c8102e"/>
<rect x="222.65" y="259.43" width="2.3" height="2.15" rx="0.55" fill="#c8102e"/>
<rect x="221.95" y="264.03" width="2.3" height="2.15" rx="0.55" fill="#c8102e"/>
<rect x="218.95" y="266.23" width="2.3" height="2.15" rx="0.55" fill="#c8102e"/>
<rect x="219.95" y="267.73" width="2.3" height="2.15" rx="0.55" fill="#c8102e"/>
<rect x="220.55" y="272.43" width="2.3" height="2.15" rx="0.55" fill="#c8102e"/>
<rect x="221.55" y="275.53" width="2.3" height="2.15" rx="0.55" fill="#c8102e"/>
<rect x="219.95" y="281.03" width="2.3" height="2.15" rx="0.55" fill="#c8102e"/>
<rect x="223.05" y="281.03" width="2.3" height="2.15" rx="0.55" fill="#c8102e"/>
<rect x="220.95" y="283.13" width="2.3" height="2.15" rx="0.55" fill="#c8102e"/>
<rect x="219.55" y="285.13" width="2.3" height="2.15" rx="0.55" fill="#c8102e"/>
<rect x="221.55" y="288.23" width="2.3" height="2.15" rx="0.55" fill="#c8102e"/>
<rect x="220.15" y="291.93" width="2.3" height="2.15" rx="0.55" fill="#c8102e"/>
<rect x="222.65" y="292.73" width="2.3" height="2.15" rx="0.55" fill="#c8102e"/>
<rect x="223.65" y="293.33" width="2.3" height="2.15" rx="0.55" fill="#c8102e"/>
<rect x="219.55" y="294.83" width="2.3" height="2.15" rx="0.55" fill="#c8102e"/>
<rect x="221.15" y="297.53" width="2.3" height="2.15" rx="0.55" fill="#c8102e"/>
<rect x="223.05" y="299.53" width="2.3" height="2.15" rx="0.55" fill="#c8102e"/>
<rect x="218.62" y="336.59" width="2.3" height="2.15" rx="0.55" fill="#c8102e"/>
<rect x="221.68" y="318.32" width="2.3" height="2.15" rx="0.55" fill="#c8102e"/>
<rect x="222.93" y="358.42" width="2.3" height="2.15" rx="0.55" fill="#c8102e"/>
<rect x="221.78" y="353.84" width="2.3" height="2.15" rx="0.55" fill="#c8102e"/>
<rect x="220.23" y="314.25" width="2.3" height="2.15" rx="0.55" fill="#c8102e"/>
<rect x="223.34" y="358.52" width="2.3" height="2.15" rx="0.55" fill="#c8102e"/>
<rect x="218.7" y="318.68" width="2.3" height="2.15" rx="0.55" fill="#c8102e"/>
<rect x="223.13" y="330.32" width="2.3" height="2.15" rx="0.55" fill="#c8102e"/>
<rect x="220.3" y="325.55" width="2.3" height="2.15" rx="0.55" fill="#c8102e"/>
<rect x="224.84" y="340.63" width="2.3" height="2.15" rx="0.55" fill="#c8102e"/>
<rect x="218.78" y="313.76" width="2.3" height="2.15" rx="0.55" fill="#c8102e"/>
<rect x="221.41" y="320.55" width="2.3" height="2.15" rx="0.55" fill="#c8102e"/>
<rect x="219.89" y="341.56" width="2.3" height="2.15" rx="0.55" fill="#c8102e"/>
<rect x="223.57" y="348.55" width="2.3" height="2.15" rx="0.55" fill="#c8102e"/>
<rect x="219.94" y="330.72" width="2.3" height="2.15" rx="0.55" fill="#c8102e"/>
<rect x="220.67" y="359.09" width="2.3" height="2.15" rx="0.55" fill="#c8102e"/>
<rect x="220.12" y="349.95" width="2.3" height="2.15" rx="0.55" fill="#c8102e"/>
<rect x="223.72" y="313.43" width="2.3" height="2.15" rx="0.55" fill="#c8102e"/>
<rect x="225.02" y="317.92" width="2.3" height="2.15" rx="0.55" fill="#c8102e"/>
<rect x="219.82" y="330.17" width="2.3" height="2.15" rx="0.55" fill="#c8102e"/>
<rect x="221.38" y="313.55" width="2.3" height="2.15" rx="0.55" fill="#c8102e"/>
<rect x="225" y="340.51" width="2.3" height="2.15" rx="0.55" fill="#c8102e"/>
<rect x="221.22" y="308.86" width="2.3" height="2.15" rx="0.55" fill="#c8102e"/>
<rect x="225.17" y="312.92" width="2.3" height="2.15" rx="0.55" fill="#c8102e"/>
<rect x="218.9" y="308.58" width="2.3" height="2.15" rx="0.55" fill="#c8102e"/>
<rect x="221.22" y="303.59" width="2.3" height="2.15" rx="0.55" fill="#c8102e"/>
<rect x="224.56" y="354.71" width="2.3" height="2.15" rx="0.55" fill="#c8102e"/>
<rect x="225.33" y="344.62" width="2.3" height="2.15" rx="0.55" fill="#c8102e"/>
<rect x="220.79" y="356.75" width="2.3" height="2.15" rx="0.55" fill="#c8102e"/>
<rect x="224.91" y="311.24" width="2.3" height="2.15" rx="0.55" fill="#c8102e"/>
<rect x="218.76" y="345.45" width="2.3" height="2.15" rx="0.55" fill="#c8102e"/>
<rect x="221.12" y="340.46" width="2.3" height="2.15" rx="0.55" fill="#c8102e"/>
<rect x="220.8" y="322.73" width="2.3" height="2.15" rx="0.55" fill="#c8102e"/>
<rect x="218.57" y="310.25" width="2.3" height="2.15" rx="0.55" fill="#c8102e"/>
<rect x="220.94" y="316.99" width="2.3" height="2.15" rx="0.55" fill="#c8102e"/>
<rect x="219.39" y="358.21" width="2.3" height="2.15" rx="0.55" fill="#c8102e"/>
<rect x="219.96" y="358.75" width="2.3" height="2.15" rx="0.55" fill="#c8102e"/>
<rect x="224.13" y="321.68" width="2.3" height="2.15" rx="0.55" fill="#c8102e"/>
<rect x="221.49" y="350.07" width="2.3" height="2.15" rx="0.55" fill="#c8102e"/>
<rect x="221.77" y="302.93" width="2.3" height="2.15" rx="0.55" fill="#c8102e"/>
<rect x="224.8" y="322.66" width="2.3" height="2.15" rx="0.55" fill="#c8102e"/>
<rect x="221.02" y="311.7" width="2.3" height="2.15" rx="0.55" fill="#c8102e"/>
<rect x="218.75" y="354.64" width="2.3" height="2.15" rx="0.55" fill="#c8102e"/>
<rect x="224.07" y="324.99" width="2.3" height="2.15" rx="0.55" fill="#c8102e"/>
<rect x="218.82" y="346.69" width="2.3" height="2.15" rx="0.55" fill="#c8102e"/>
<rect x="218.97" y="302.05" width="2.3" height="2.15" rx="0.55" fill="#c8102e"/>
<rect x="220.3" y="356.05" width="2.3" height="2.15" rx="0.55" fill="#c8102e"/>
<rect x="224.66" y="345.51" width="2.3" height="2.15" rx="0.55" fill="#c8102e"/>
<rect x="220.4" y="320.61" width="2.3" height="2.15" rx="0.55" fill="#c8102e"/>
<rect x="222.74" y="358.35" width="2.3" height="2.15" rx="0.55" fill="#c8102e"/>
<rect x="223.42" y="315.92" width="2.3" height="2.15" rx="0.55" fill="#c8102e"/>
<rect x="220.42" y="319.23" width="2.3" height="2.15" rx="0.55" fill="#c8102e"/>
<rect x="223.69" y="300.16" width="2.3" height="2.15" rx="0.55" fill="#c8102e"/>
<rect x="222.86" y="355.83" width="2.3" height="2.15" rx="0.55" fill="#c8102e"/>
<rect x="218.71" y="357.46" width="2.3" height="2.15" rx="0.55" fill="#c8102e"/>
<rect x="220.62" y="362.93" width="2.3" height="2.15" rx="0.55" fill="#c8102e"/>
<rect x="221.82" y="364.93" width="2.3" height="2.15" rx="0.55" fill="#c8102e"/>
<rect x="224.23" y="366.93" width="2.3" height="2.15" rx="0.55" fill="#c8102e"/>
<rect x="224.22" y="369.93" width="2.3" height="2.15" rx="0.55" fill="#c8102e"/>
<rect x="221.38" y="372.93" width="2.3" height="2.15" rx="0.55" fill="#c8102e"/>
<rect x="220.7" y="375.93" width="2.3" height="2.15" rx="0.55" fill="#c8102e"/>
<rect x="221.6" y="383.93" width="2.3" height="2.15" rx="0.55" fill="#c8102e"/>
<rect x="221.91" y="386.93" width="2.3" height="2.15" rx="0.55" fill="#c8102e"/>
<rect x="224.09" y="390.93" width="2.3" height="2.15" rx="0.55" fill="#c8102e"/>
<rect x="219.8" y="394.5" width="6.4" height="1.8" fill="#c8102e"/>
<rect x="219.8" y="399" width="6.4" height="1.8" fill="#c8102e"/>
<line x1="121.6" y1="350.5" x2="121.6" y2="372.3" stroke="#333" stroke-width="1"/>
<rect x="116.6" y="356.8" width="10.2" height="10.2" fill="#86a9d4"/>
<line x1="116.6" y1="361.8" x2="126.8" y2="361.8" stroke="#333" stroke-width="1.6"/>
<rect x="120.29" y="360.58" width="2.62" height="2.44" rx="0.55" fill="#114a8c"/>
<line x1="121.6" y1="377.5" x2="121.6" y2="399.5" stroke="#333" stroke-width="1"/>
<rect x="116.6" y="383.9" width="10.2" height="10.4" fill="#ec8598"/>
<line x1="116.6" y1="389.1" x2="126.8" y2="389.1" stroke="#333" stroke-width="1.6"/>
<rect x="120.29" y="387.88" width="2.62" height="2.44" rx="0.55" fill="#c8102e"/>
<text x="129.7" y="364.5" font-size="7.6" textLength="43.6" lengthAdjust="spacingAndGlyphs" fill="#231f20" stroke="#231f20" stroke-width="0.12">2 h postdose</text>
<text x="130.2" y="392.2" font-size="7.6" textLength="46.8" lengthAdjust="spacingAndGlyphs" fill="#231f20" stroke="#231f20" stroke-width="0.12">12 h postdose</text>
<text x="265.8" y="15" font-size="11.5" font-weight="bold" fill="#000" stroke="#000" stroke-width="0.4">B</text>
<line x1="297.5" y1="23.3" x2="297.5" y2="187.5" stroke="#1a1a1a" stroke-width="1"/>
<line x1="297" y1="187" x2="510.5" y2="187" stroke="#1a1a1a" stroke-width="1"/>
<line x1="294" y1="27.2" x2="297.5" y2="27.2" stroke="#1a1a1a" stroke-width="1"/>
<text x="291.5" y="30.2" font-size="8.8" text-anchor="end" textLength="9.2" lengthAdjust="spacingAndGlyphs" fill="#2a2a2a" stroke="#2a2a2a" stroke-width="0.12">16</text>
<line x1="294" y1="38.4" x2="297.5" y2="38.4" stroke="#1a1a1a" stroke-width="1"/>
<text x="291.5" y="41.4" font-size="8.8" text-anchor="end" textLength="9.2" lengthAdjust="spacingAndGlyphs" fill="#2a2a2a" stroke="#2a2a2a" stroke-width="0.12">14</text>
<line x1="294" y1="50.3" x2="297.5" y2="50.3" stroke="#1a1a1a" stroke-width="1"/>
<text x="291.5" y="53.3" font-size="8.8" text-anchor="end" textLength="9.2" lengthAdjust="spacingAndGlyphs" fill="#2a2a2a" stroke="#2a2a2a" stroke-width="0.12">12</text>
<line x1="294" y1="64.5" x2="297.5" y2="64.5" stroke="#1a1a1a" stroke-width="1"/>
<text x="291.5" y="67.5" font-size="8.8" text-anchor="end" textLength="9.2" lengthAdjust="spacingAndGlyphs" fill="#2a2a2a" stroke="#2a2a2a" stroke-width="0.12">10</text>
<line x1="294" y1="80.5" x2="297.5" y2="80.5" stroke="#1a1a1a" stroke-width="1"/>
<text x="291.5" y="83.5" font-size="8.8" text-anchor="end" textLength="4.6" lengthAdjust="spacingAndGlyphs" fill="#2a2a2a" stroke="#2a2a2a" stroke-width="0.12">8</text>
<line x1="294" y1="98.1" x2="297.5" y2="98.1" stroke="#1a1a1a" stroke-width="1"/>
<text x="291.5" y="101.1" font-size="8.8" text-anchor="end" textLength="4.6" lengthAdjust="spacingAndGlyphs" fill="#2a2a2a" stroke="#2a2a2a" stroke-width="0.12">6</text>
<line x1="294" y1="119.3" x2="297.5" y2="119.3" stroke="#1a1a1a" stroke-width="1"/>
<text x="291.5" y="122.3" font-size="8.8" text-anchor="end" textLength="4.6" lengthAdjust="spacingAndGlyphs" fill="#2a2a2a" stroke="#2a2a2a" stroke-width="0.12">4</text>
<line x1="294" y1="147.6" x2="297.5" y2="147.6" stroke="#1a1a1a" stroke-width="1"/>
<text x="291.5" y="150.6" font-size="8.8" text-anchor="end" textLength="4.6" lengthAdjust="spacingAndGlyphs" fill="#2a2a2a" stroke="#2a2a2a" stroke-width="0.12">2</text>
<line x1="294" y1="183.7" x2="297.5" y2="183.7" stroke="#1a1a1a" stroke-width="1"/>
<text x="291.5" y="186.7" font-size="8.8" text-anchor="end" textLength="4.6" lengthAdjust="spacingAndGlyphs" fill="#2a2a2a" stroke="#2a2a2a" stroke-width="0.12">0</text>
<line x1="336.1" y1="187.2" x2="336.1" y2="190.2" stroke="#666" stroke-width="1.1"/>
<text x="336.1" y="199.7" font-size="8.8" text-anchor="middle" textLength="4.6" lengthAdjust="spacingAndGlyphs" fill="#2a2a2a" stroke="#2a2a2a" stroke-width="0.12">1</text>
<line x1="349.1" y1="187.2" x2="349.1" y2="190.2" stroke="#666" stroke-width="1.1"/>
<text x="349.1" y="199.7" font-size="8.8" text-anchor="middle" textLength="4.6" lengthAdjust="spacingAndGlyphs" fill="#2a2a2a" stroke="#2a2a2a" stroke-width="0.12">2</text>
<line x1="365.47" y1="187.2" x2="365.47" y2="190.2" stroke="#666" stroke-width="1.1"/>
<text x="365.47" y="199.7" font-size="8.8" text-anchor="middle" textLength="4.6" lengthAdjust="spacingAndGlyphs" fill="#2a2a2a" stroke="#2a2a2a" stroke-width="0.12">4</text>
<line x1="376.25" y1="187.2" x2="376.25" y2="190.2" stroke="#666" stroke-width="1.1"/>
<text x="376.25" y="199.7" font-size="8.8" text-anchor="middle" textLength="4.6" lengthAdjust="spacingAndGlyphs" fill="#2a2a2a" stroke="#2a2a2a" stroke-width="0.12">6</text>
<line x1="390.74" y1="187.2" x2="390.74" y2="190.2" stroke="#666" stroke-width="1.1"/>
<text x="390.74" y="199.7" font-size="8.8" text-anchor="middle" textLength="9.2" lengthAdjust="spacingAndGlyphs" fill="#2a2a2a" stroke="#2a2a2a" stroke-width="0.12">10</text>
<line x1="411.46" y1="187.2" x2="411.46" y2="190.2" stroke="#666" stroke-width="1.1"/>
<text x="411.46" y="199.7" font-size="8.8" text-anchor="middle" textLength="9.2" lengthAdjust="spacingAndGlyphs" fill="#2a2a2a" stroke="#2a2a2a" stroke-width="0.12">20</text>
<line x1="432.91" y1="187.2" x2="432.91" y2="190.2" stroke="#666" stroke-width="1.1"/>
<text x="432.91" y="199.7" font-size="8.8" text-anchor="middle" textLength="9.2" lengthAdjust="spacingAndGlyphs" fill="#2a2a2a" stroke="#2a2a2a" stroke-width="0.12">40</text>
<line x1="445.64" y1="187.2" x2="445.64" y2="190.2" stroke="#666" stroke-width="1.1"/>
<text x="445.64" y="199.7" font-size="8.8" text-anchor="middle" textLength="9.2" lengthAdjust="spacingAndGlyphs" fill="#2a2a2a" stroke="#2a2a2a" stroke-width="0.12">60</text>
<line x1="461.8" y1="187.2" x2="461.8" y2="190.2" stroke="#666" stroke-width="1.1"/>
<text x="461.8" y="199.7" font-size="8.8" text-anchor="middle" textLength="13.8" lengthAdjust="spacingAndGlyphs" fill="#2a2a2a" stroke="#2a2a2a" stroke-width="0.12">100</text>
<line x1="483.86" y1="187.2" x2="483.86" y2="190.2" stroke="#666" stroke-width="1.1"/>
<text x="483.86" y="199.7" font-size="8.8" text-anchor="middle" textLength="13.8" lengthAdjust="spacingAndGlyphs" fill="#2a2a2a" stroke="#2a2a2a" stroke-width="0.12">200</text>
<line x1="506" y1="187.2" x2="506" y2="190.2" stroke="#666" stroke-width="1.1"/>
<text x="506" y="199.7" font-size="8.8" text-anchor="middle" textLength="13.8" lengthAdjust="spacingAndGlyphs" fill="#2a2a2a" stroke="#2a2a2a" stroke-width="0.12">400</text>
<line x1="314.1" y1="187.2" x2="314.1" y2="190.2" stroke="#666" stroke-width="1.1"/>
<text x="314.2" y="199.4" font-size="8.8" text-anchor="middle" textLength="27.6" lengthAdjust="spacingAndGlyphs" fill="#231f20" stroke="#231f20" stroke-width="0.12">Placebo</text>
<text x="403.9" y="212.6" font-size="9.8" text-anchor="middle" textLength="133.2" lengthAdjust="spacingAndGlyphs" fill="#231f20" stroke="#231f20" stroke-width="0.14" letter-spacing="0.7">Ticagrelor plasma concentration (ng/mL)</text>
<text x="276" y="105" font-size="9.8" text-anchor="middle" textLength="86" lengthAdjust="spacingAndGlyphs" transform="rotate(-90 276 105)" fill="#231f20" stroke="#231f20" stroke-width="0.14" letter-spacing="0.7">Number of VOCs (1/year)</text>
<polygon points="402.3,110.88 404.3,111.97 406.31,113.06 408.31,114.15 410.32,115.23 412.32,116.3 414.32,117.36 416.33,118.42 418.33,119.46 420.34,120.49 422.34,121.5 424.34,122.5 426.35,123.48 428.35,124.44 430.36,125.37 432.36,126.27 434.36,127.13 436.37,127.94 438.37,128.7 440.38,129.39 442.38,130 444.38,130.53 446.39,130.94 448.39,131.24 450.4,131.4 452.4,131.42 454.4,131.3 456.41,131.05 458.41,130.67 460.42,130.17 462.42,129.57 464.42,128.89 466.43,128.13 468.43,127.31 470.44,126.44 472.44,125.53 474.44,124.58 476.45,123.6 478.45,122.59 480.46,121.57 482.46,120.52 484.46,119.46 486.47,118.39 488.47,117.3 490.48,116.21 492.48,115.1 494.48,113.99 496.49,112.87 498.49,111.75 500.5,110.61 502.5,109.48 502.5,159.91 500.5,159.32 498.49,158.73 496.49,158.16 494.48,157.58 492.48,157.02 490.48,156.46 488.47,155.92 486.47,155.38 484.46,154.85 482.46,154.34 480.46,153.84 478.45,153.35 476.45,152.88 474.44,152.44 472.44,152.01 470.44,151.61 468.43,151.24 466.43,150.9 464.42,150.6 462.42,150.34 460.42,150.12 458.41,149.94 456.41,149.82 454.4,149.74 452.4,149.73 450.4,149.76 448.39,149.85 446.39,149.99 444.38,150.19 442.38,150.43 440.38,150.71 438.37,151.04 436.37,151.4 434.36,151.8 432.36,152.22 430.36,152.68 428.35,153.15 426.35,153.65 424.34,154.17 422.34,154.7 420.34,155.25 418.33,155.81 416.33,156.38 414.32,156.96 412.32,157.55 410.32,158.15 408.31,158.76 406.31,159.37 404.3,159.99 402.3,160.62" fill="#c5d4e3"/>
<rect x="308.1" y="134.8" width="12.5" height="16.4" fill="#e0879a"/>
<line x1="308.1" y1="143.8" x2="320.6" y2="143.8" stroke="#333" stroke-width="1.4"/>
<rect x="313.25" y="31.23" width="2.3" height="2.15" rx="0.55" fill="#c8102e"/>
<rect x="313.25" y="61.63" width="2.3" height="2.15" rx="0.55" fill="#c8102e"/>
<rect x="313.25" y="71.53" width="2.3" height="2.15" rx="0.55" fill="#c8102e"/>
<rect x="313.25" y="79.73" width="2.3" height="2.15" rx="0.55" fill="#c8102e"/>
<rect x="313.25" y="84.63" width="2.3" height="2.15" rx="0.55" fill="#c8102e"/>
<rect x="313.25" y="86.73" width="2.3" height="2.15" rx="0.55" fill="#c8102e"/>
<rect x="313.25" y="88.73" width="2.3" height="2.15" rx="0.55" fill="#c8102e"/>
<rect x="313.25" y="90.83" width="2.3" height="2.15" rx="0.55" fill="#c8102e"/>
<rect x="313.25" y="92.43" width="2.3" height="2.15" rx="0.55" fill="#c8102e"/>
<rect x="313.25" y="96.93" width="2.3" height="2.15" rx="0.55" fill="#c8102e"/>
<rect x="313.25" y="98.93" width="2.3" height="2.15" rx="0.55" fill="#c8102e"/>
<rect x="313.25" y="99.93" width="2.3" height="2.15" rx="0.55" fill="#c8102e"/>
<rect x="313.25" y="102.73" width="2.3" height="2.15" rx="0.55" fill="#c8102e"/>
<rect x="313.25" y="106.13" width="2.3" height="2.15" rx="0.55" fill="#c8102e"/>
<rect x="313.25" y="110.23" width="2.3" height="2.15" rx="0.55" fill="#c8102e"/>
<rect x="313.25" y="112.23" width="2.3" height="2.15" rx="0.55" fill="#c8102e"/>
<rect x="313.25" y="117.43" width="2.3" height="2.15" rx="0.55" fill="#c8102e"/>
<rect x="313.25" y="119.43" width="2.3" height="2.15" rx="0.55" fill="#c8102e"/>
<rect x="313.25" y="123.13" width="2.3" height="2.15" rx="0.55" fill="#c8102e"/>
<rect x="313.25" y="124.73" width="2.3" height="2.15" rx="0.55" fill="#c8102e"/>
<rect x="313.25" y="126.43" width="2.3" height="2.15" rx="0.55" fill="#c8102e"/>
<rect x="313.25" y="128.13" width="2.3" height="2.15" rx="0.55" fill="#c8102e"/>
<rect x="313.25" y="152.23" width="2.3" height="2.15" rx="0.55" fill="#c8102e"/>
<rect x="313.3" y="132.9" width="2.2" height="5.8" fill="#c8102e"/>
<rect x="313.3" y="139.1" width="2.2" height="7.3" fill="#c8102e"/>
<rect x="313.3" y="146.8" width="2.2" height="3.2" fill="#c8102e"/>
<rect x="313.3" y="156" width="2.2" height="8.9" fill="#c8102e"/>
<rect x="313.25" y="183.13" width="2.3" height="2.15" rx="0.55" fill="#c8102e"/>
<rect x="460" y="45.27" width="2.2" height="2.05" rx="0.55" fill="#114a8c"/>
<rect x="443.6" y="50.98" width="2.2" height="2.05" rx="0.55" fill="#114a8c"/>
<rect x="460.9" y="55.38" width="2.2" height="2.05" rx="0.55" fill="#114a8c"/>
<rect x="461.3" y="60.48" width="2.2" height="2.05" rx="0.55" fill="#114a8c"/>
<rect x="439.9" y="63.57" width="2.2" height="2.05" rx="0.55" fill="#114a8c"/>
<rect x="439.9" y="66.88" width="2.2" height="2.05" rx="0.55" fill="#114a8c"/>
<rect x="462.4" y="71.97" width="2.2" height="2.05" rx="0.55" fill="#114a8c"/>
<rect x="432.2" y="77.77" width="2.2" height="2.05" rx="0.55" fill="#114a8c"/>
<rect x="446.7" y="80.17" width="2.2" height="2.05" rx="0.55" fill="#114a8c"/>
<rect x="451.8" y="80.57" width="2.2" height="2.05" rx="0.55" fill="#114a8c"/>
<rect x="438.1" y="88.77" width="2.2" height="2.05" rx="0.55" fill="#114a8c"/>
<rect x="477" y="91.67" width="2.2" height="2.05" rx="0.55" fill="#114a8c"/>
<rect x="454.5" y="94.47" width="2.2" height="2.05" rx="0.55" fill="#114a8c"/>
<rect x="467.9" y="96.57" width="2.2" height="2.05" rx="0.55" fill="#114a8c"/>
<rect x="444.1" y="98.47" width="2.2" height="2.05" rx="0.55" fill="#114a8c"/>
<rect x="479.7" y="103.97" width="2.2" height="2.05" rx="0.55" fill="#114a8c"/>
<rect x="466.4" y="108.88" width="2.2" height="2.05" rx="0.55" fill="#114a8c"/>
<rect x="455.4" y="113.47" width="2.2" height="2.05" rx="0.55" fill="#114a8c"/>
<rect x="411" y="118.38" width="2.2" height="2.05" rx="0.55" fill="#114a8c"/>
<rect x="423.8" y="117.27" width="2.2" height="2.05" rx="0.55" fill="#114a8c"/>
<rect x="426" y="127.17" width="2.2" height="2.05" rx="0.55" fill="#114a8c"/>
<rect x="429.2" y="131.47" width="2.2" height="2.05" rx="0.55" fill="#114a8c"/>
<rect x="430.8" y="132.78" width="2.2" height="2.05" rx="0.55" fill="#114a8c"/>
<rect x="420.9" y="139.97" width="2.2" height="2.05" rx="0.55" fill="#114a8c"/>
<rect x="433.4" y="141.07" width="2.2" height="2.05" rx="0.55" fill="#114a8c"/>
<rect x="437.7" y="144.28" width="2.2" height="2.05" rx="0.55" fill="#114a8c"/>
<rect x="440.9" y="120.77" width="2.2" height="2.05" rx="0.55" fill="#114a8c"/>
<rect x="440.4" y="142.07" width="2.2" height="2.05" rx="0.55" fill="#114a8c"/>
<rect x="443.6" y="147.47" width="2.2" height="2.05" rx="0.55" fill="#114a8c"/>
<rect x="446.5" y="146.38" width="2.2" height="2.05" rx="0.55" fill="#114a8c"/>
<rect x="444.6" y="137.07" width="2.2" height="2.05" rx="0.55" fill="#114a8c"/>
<rect x="451" y="132.47" width="2.2" height="2.05" rx="0.55" fill="#114a8c"/>
<rect x="451.3" y="137.88" width="2.2" height="2.05" rx="0.55" fill="#114a8c"/>
<rect x="452.6" y="126.38" width="2.2" height="2.05" rx="0.55" fill="#114a8c"/>
<rect x="447.8" y="118.07" width="2.2" height="2.05" rx="0.55" fill="#114a8c"/>
<rect x="450.2" y="119.97" width="2.2" height="2.05" rx="0.55" fill="#114a8c"/>
<rect x="454.5" y="118.38" width="2.2" height="2.05" rx="0.55" fill="#114a8c"/>
<rect x="456.1" y="121.27" width="2.2" height="2.05" rx="0.55" fill="#114a8c"/>
<rect x="455.8" y="141.57" width="2.2" height="2.05" rx="0.55" fill="#114a8c"/>
<rect x="437.7" y="156.47" width="2.2" height="2.05" rx="0.55" fill="#114a8c"/>
<rect x="438.2" y="161.28" width="2.2" height="2.05" rx="0.55" fill="#114a8c"/>
<rect x="443" y="160.78" width="2.2" height="2.05" rx="0.55" fill="#114a8c"/>
<rect x="445.7" y="158.38" width="2.2" height="2.05" rx="0.55" fill="#114a8c"/>
<rect x="448.1" y="155.97" width="2.2" height="2.05" rx="0.55" fill="#114a8c"/>
<rect x="453.7" y="158.38" width="2.2" height="2.05" rx="0.55" fill="#114a8c"/>
<rect x="456.1" y="165.07" width="2.2" height="2.05" rx="0.55" fill="#114a8c"/>
<rect x="474.2" y="114.88" width="2.2" height="2.05" rx="0.55" fill="#114a8c"/>
<rect x="460" y="118.38" width="2.2" height="2.05" rx="0.55" fill="#114a8c"/>
<rect x="477.6" y="119.67" width="2.2" height="2.05" rx="0.55" fill="#114a8c"/>
<rect x="460" y="123.17" width="2.2" height="2.05" rx="0.55" fill="#114a8c"/>
<rect x="461.6" y="124.77" width="2.2" height="2.05" rx="0.55" fill="#114a8c"/>
<rect x="470.7" y="124.27" width="2.2" height="2.05" rx="0.55" fill="#114a8c"/>
<rect x="465.9" y="126.38" width="2.2" height="2.05" rx="0.55" fill="#114a8c"/>
<rect x="457.4" y="127.67" width="2.2" height="2.05" rx="0.55" fill="#114a8c"/>
<rect x="462.2" y="131.47" width="2.2" height="2.05" rx="0.55" fill="#114a8c"/>
<rect x="460" y="138.38" width="2.2" height="2.05" rx="0.55" fill="#114a8c"/>
<rect x="468.6" y="138.88" width="2.2" height="2.05" rx="0.55" fill="#114a8c"/>
<rect x="473.9" y="141.88" width="2.2" height="2.05" rx="0.55" fill="#114a8c"/>
<rect x="469.6" y="146.88" width="2.2" height="2.05" rx="0.55" fill="#114a8c"/>
<rect x="460" y="157.07" width="2.2" height="2.05" rx="0.55" fill="#114a8c"/>
<rect x="462.7" y="156.78" width="2.2" height="2.05" rx="0.55" fill="#114a8c"/>
<rect x="457.4" y="162.38" width="2.2" height="2.05" rx="0.55" fill="#114a8c"/>
<rect x="469.1" y="162.88" width="2.2" height="2.05" rx="0.55" fill="#114a8c"/>
<rect x="470.7" y="161.57" width="2.2" height="2.05" rx="0.55" fill="#114a8c"/>
<rect x="469.9" y="164.47" width="2.2" height="2.05" rx="0.55" fill="#114a8c"/>
<rect x="472.8" y="167.67" width="2.2" height="2.05" rx="0.55" fill="#114a8c"/>
<rect x="480.3" y="160.28" width="2.2" height="2.05" rx="0.55" fill="#114a8c"/>
<rect x="401.5" y="183.17" width="2.2" height="2.05" rx="0.55" fill="#114a8c"/>
<rect x="403.1" y="183.17" width="2.2" height="2.05" rx="0.55" fill="#114a8c"/>
<rect x="409.6" y="183.17" width="2.2" height="2.05" rx="0.55" fill="#114a8c"/>
<rect x="411.7" y="183.17" width="2.2" height="2.05" rx="0.55" fill="#114a8c"/>
<rect x="429" y="183.17" width="2.2" height="2.05" rx="0.55" fill="#114a8c"/>
<rect x="439.4" y="183.17" width="2.2" height="2.05" rx="0.55" fill="#114a8c"/>
<rect x="440.8" y="183.17" width="2.2" height="2.05" rx="0.55" fill="#114a8c"/>
<rect x="442.4" y="183.17" width="2.2" height="2.05" rx="0.55" fill="#114a8c"/>
<rect x="444.2" y="183.17" width="2.2" height="2.05" rx="0.55" fill="#114a8c"/>
<rect x="447" y="183.17" width="2.2" height="2.05" rx="0.55" fill="#114a8c"/>
<rect x="448.4" y="183.17" width="2.2" height="2.05" rx="0.55" fill="#114a8c"/>
<rect x="451.2" y="183.17" width="2.2" height="2.05" rx="0.55" fill="#114a8c"/>
<rect x="452.8" y="183.17" width="2.2" height="2.05" rx="0.55" fill="#114a8c"/>
<rect x="453.9" y="183.17" width="2.2" height="2.05" rx="0.55" fill="#114a8c"/>
<rect x="457.9" y="183.17" width="2.2" height="2.05" rx="0.55" fill="#114a8c"/>
<rect x="462.7" y="183.17" width="2.2" height="2.05" rx="0.55" fill="#114a8c"/>
<rect x="464.8" y="183.17" width="2.2" height="2.05" rx="0.55" fill="#114a8c"/>
<rect x="466.9" y="183.17" width="2.2" height="2.05" rx="0.55" fill="#114a8c"/>
<rect x="470.6" y="183.17" width="2.2" height="2.05" rx="0.55" fill="#114a8c"/>
<rect x="472.4" y="183.17" width="2.2" height="2.05" rx="0.55" fill="#114a8c"/>
<rect x="474.7" y="183.17" width="2.2" height="2.05" rx="0.55" fill="#114a8c"/>
<rect x="478" y="183.17" width="2.2" height="2.05" rx="0.55" fill="#114a8c"/>
<rect x="493.7" y="183.17" width="2.2" height="2.05" rx="0.55" fill="#114a8c"/>
<rect x="500.8" y="183.17" width="2.2" height="2.05" rx="0.55" fill="#114a8c"/>
<line x1="402.3" y1="141.7" x2="502.5" y2="140.75" stroke="#1a4f86" stroke-width="1.8"/>
<rect x="380.89" y="25.88" width="2.62" height="2.44" rx="0.55" fill="#114a8c"/>
<text x="387.5" y="30" font-size="8.5" textLength="35.6" lengthAdjust="spacingAndGlyphs" fill="#231f20" stroke="#231f20" stroke-width="0.12">Ticagrelor</text>
<rect x="380.89" y="36.08" width="2.62" height="2.44" rx="0.55" fill="#c8102e"/>
<text x="387.5" y="40.2" font-size="8.5" textLength="28.3" lengthAdjust="spacingAndGlyphs" fill="#231f20" stroke="#231f20" stroke-width="0.12">Placebo</text>
<text x="383.2" y="85" font-size="8" text-anchor="middle" textLength="66.5" lengthAdjust="spacingAndGlyphs" fill="#231f20" stroke="#231f20" stroke-width="0.12">Negative binomial</text>
<text x="382.3" y="94.3" font-size="8" text-anchor="middle" textLength="61" lengthAdjust="spacingAndGlyphs" fill="#231f20" stroke="#231f20" stroke-width="0.12">regression model,</text>
<text x="383.3" y="103.6" font-size="8" text-anchor="middle" textLength="84" lengthAdjust="spacingAndGlyphs" fill="#231f20" stroke="#231f20" stroke-width="0.12">slope = 0.0129; <tspan font-style="italic">P</tspan> = .95</text>
<text x="264.6" y="239" font-size="11.5" font-weight="bold" fill="#000" stroke="#000" stroke-width="0.4">D</text>
<line x1="297.5" y1="243.5" x2="297.5" y2="407.5" stroke="#1a1a1a" stroke-width="1"/>
<line x1="297" y1="407" x2="510.6" y2="407" stroke="#1a1a1a" stroke-width="1"/>
<line x1="294" y1="404.5" x2="297.5" y2="404.5" stroke="#1a1a1a" stroke-width="1"/>
<text x="291.5" y="407.5" font-size="8.8" text-anchor="end" textLength="4.6" lengthAdjust="spacingAndGlyphs" fill="#2a2a2a" stroke="#2a2a2a" stroke-width="0.12">0</text>
<line x1="294" y1="388.79" x2="297.5" y2="388.79" stroke="#1a1a1a" stroke-width="1"/>
<text x="291.5" y="391.79" font-size="8.8" text-anchor="end" textLength="9.2" lengthAdjust="spacingAndGlyphs" fill="#2a2a2a" stroke="#2a2a2a" stroke-width="0.12">10</text>
<line x1="294" y1="373.08" x2="297.5" y2="373.08" stroke="#1a1a1a" stroke-width="1"/>
<text x="291.5" y="376.08" font-size="8.8" text-anchor="end" textLength="9.2" lengthAdjust="spacingAndGlyphs" fill="#2a2a2a" stroke="#2a2a2a" stroke-width="0.12">20</text>
<line x1="294" y1="357.37" x2="297.5" y2="357.37" stroke="#1a1a1a" stroke-width="1"/>
<text x="291.5" y="360.37" font-size="8.8" text-anchor="end" textLength="9.2" lengthAdjust="spacingAndGlyphs" fill="#2a2a2a" stroke="#2a2a2a" stroke-width="0.12">30</text>
<line x1="294" y1="341.66" x2="297.5" y2="341.66" stroke="#1a1a1a" stroke-width="1"/>
<text x="291.5" y="344.66" font-size="8.8" text-anchor="end" textLength="9.2" lengthAdjust="spacingAndGlyphs" fill="#2a2a2a" stroke="#2a2a2a" stroke-width="0.12">40</text>
<line x1="294" y1="325.95" x2="297.5" y2="325.95" stroke="#1a1a1a" stroke-width="1"/>
<text x="291.5" y="328.95" font-size="8.8" text-anchor="end" textLength="9.2" lengthAdjust="spacingAndGlyphs" fill="#2a2a2a" stroke="#2a2a2a" stroke-width="0.12">50</text>
<line x1="294" y1="310.24" x2="297.5" y2="310.24" stroke="#1a1a1a" stroke-width="1"/>
<text x="291.5" y="313.24" font-size="8.8" text-anchor="end" textLength="9.2" lengthAdjust="spacingAndGlyphs" fill="#2a2a2a" stroke="#2a2a2a" stroke-width="0.12">60</text>
<line x1="294" y1="294.53" x2="297.5" y2="294.53" stroke="#1a1a1a" stroke-width="1"/>
<text x="291.5" y="297.53" font-size="8.8" text-anchor="end" textLength="9.2" lengthAdjust="spacingAndGlyphs" fill="#2a2a2a" stroke="#2a2a2a" stroke-width="0.12">70</text>
<line x1="294" y1="278.82" x2="297.5" y2="278.82" stroke="#1a1a1a" stroke-width="1"/>
<text x="291.5" y="281.82" font-size="8.8" text-anchor="end" textLength="9.2" lengthAdjust="spacingAndGlyphs" fill="#2a2a2a" stroke="#2a2a2a" stroke-width="0.12">80</text>
<line x1="294" y1="263.11" x2="297.5" y2="263.11" stroke="#1a1a1a" stroke-width="1"/>
<text x="291.5" y="266.11" font-size="8.8" text-anchor="end" textLength="9.2" lengthAdjust="spacingAndGlyphs" fill="#2a2a2a" stroke="#2a2a2a" stroke-width="0.12">90</text>
<line x1="294" y1="247.4" x2="297.5" y2="247.4" stroke="#1a1a1a" stroke-width="1"/>
<text x="291.5" y="250.4" font-size="8.8" text-anchor="end" textLength="13.8" lengthAdjust="spacingAndGlyphs" fill="#2a2a2a" stroke="#2a2a2a" stroke-width="0.12">100</text>
<line x1="311.2" y1="407.2" x2="311.2" y2="410.2" stroke="#666" stroke-width="1.1"/>
<text x="311.2" y="419.7" font-size="8.8" text-anchor="middle" textLength="4.6" lengthAdjust="spacingAndGlyphs" fill="#2a2a2a" stroke="#2a2a2a" stroke-width="0.12">0</text>
<line x1="359.88" y1="407.2" x2="359.88" y2="410.2" stroke="#666" stroke-width="1.1"/>
<text x="359.88" y="419.7" font-size="8.8" text-anchor="middle" textLength="13.8" lengthAdjust="spacingAndGlyphs" fill="#2a2a2a" stroke="#2a2a2a" stroke-width="0.12">200</text>
<line x1="408.56" y1="407.2" x2="408.56" y2="410.2" stroke="#666" stroke-width="1.1"/>
<text x="408.56" y="419.7" font-size="8.8" text-anchor="middle" textLength="13.8" lengthAdjust="spacingAndGlyphs" fill="#2a2a2a" stroke="#2a2a2a" stroke-width="0.12">400</text>
<line x1="457.24" y1="407.2" x2="457.24" y2="410.2" stroke="#666" stroke-width="1.1"/>
<text x="457.24" y="419.7" font-size="8.8" text-anchor="middle" textLength="13.8" lengthAdjust="spacingAndGlyphs" fill="#2a2a2a" stroke="#2a2a2a" stroke-width="0.12">600</text>
<line x1="505.92" y1="407.2" x2="505.92" y2="410.2" stroke="#666" stroke-width="1.1"/>
<text x="505.92" y="419.7" font-size="8.8" text-anchor="middle" textLength="13.8" lengthAdjust="spacingAndGlyphs" fill="#2a2a2a" stroke="#2a2a2a" stroke-width="0.12">800</text>
<text x="404" y="430.2" font-size="9.8" text-anchor="middle" textLength="134.9" lengthAdjust="spacingAndGlyphs" fill="#231f20" stroke="#231f20" stroke-width="0.14" letter-spacing="0.7">Ticagrelor plasma concentration (ng/mL)</text>
<text x="273.5" y="323.8" font-size="9.8" text-anchor="middle" textLength="100.2" lengthAdjust="spacingAndGlyphs" transform="rotate(-90 273.5 323.8)" fill="#231f20" stroke="#231f20" stroke-width="0.14" letter-spacing="0.7">Platelet reactivity index (%)</text>
<rect x="310.4" y="246.4" width="2.2" height="59.8" fill="#c8102e"/>
<rect x="310.4" y="309.5" width="2.2" height="8.8" fill="#c8102e"/>
<rect x="310.35" y="319.43" width="2.3" height="2.15" rx="0.55" fill="#c8102e"/>
<rect x="310.35" y="321.43" width="2.3" height="2.15" rx="0.55" fill="#c8102e"/>
<rect x="310.35" y="326.93" width="2.3" height="2.15" rx="0.55" fill="#c8102e"/>
<rect x="310.35" y="334.13" width="2.3" height="2.15" rx="0.55" fill="#c8102e"/>
<rect x="310.35" y="337.33" width="2.3" height="2.15" rx="0.55" fill="#c8102e"/>
<rect x="310.35" y="340.73" width="2.3" height="2.15" rx="0.55" fill="#c8102e"/>
<rect x="310.35" y="342.73" width="2.3" height="2.15" rx="0.55" fill="#c8102e"/>
<rect x="310.35" y="346.13" width="2.3" height="2.15" rx="0.55" fill="#c8102e"/>
<rect x="310.35" y="346.63" width="2.3" height="2.15" rx="0.55" fill="#c8102e"/>
<rect x="310.35" y="358.03" width="2.3" height="2.15" rx="0.55" fill="#c8102e"/>
<rect x="310.35" y="359.23" width="2.3" height="2.15" rx="0.55" fill="#c8102e"/>
<rect x="310.35" y="363.93" width="2.3" height="2.15" rx="0.55" fill="#c8102e"/>
<rect x="310.35" y="364.93" width="2.3" height="2.15" rx="0.55" fill="#c8102e"/>
<rect x="310.35" y="377.73" width="2.3" height="2.15" rx="0.55" fill="#c8102e"/>
<rect x="310.35" y="383.23" width="2.3" height="2.15" rx="0.55" fill="#c8102e"/>
<rect x="310.35" y="384.63" width="2.3" height="2.15" rx="0.55" fill="#c8102e"/>
<rect x="310.35" y="386.93" width="2.3" height="2.15" rx="0.55" fill="#c8102e"/>
<rect x="310.35" y="390.13" width="2.3" height="2.15" rx="0.55" fill="#c8102e"/>
<rect x="310.35" y="391.33" width="2.3" height="2.15" rx="0.55" fill="#c8102e"/>
<rect x="310.35" y="392.83" width="2.3" height="2.15" rx="0.55" fill="#c8102e"/>
<rect x="310.35" y="394.33" width="2.3" height="2.15" rx="0.55" fill="#c8102e"/>
<rect x="310.35" y="399.03" width="2.3" height="2.15" rx="0.55" fill="#c8102e"/>
<rect x="342.7" y="246.67" width="2.2" height="2.05" rx="0.55" fill="#114a8c"/>
<rect x="311.3" y="264.18" width="2.2" height="2.05" rx="0.55" fill="#114a8c"/>
<rect x="316.7" y="268.78" width="2.2" height="2.05" rx="0.55" fill="#114a8c"/>
<rect x="309.1" y="275.18" width="2.2" height="2.05" rx="0.55" fill="#114a8c"/>
<rect x="315.3" y="273.28" width="2.2" height="2.05" rx="0.55" fill="#114a8c"/>
<rect x="331.7" y="270.98" width="2.2" height="2.05" rx="0.55" fill="#114a8c"/>
<rect x="331.7" y="277.88" width="2.2" height="2.05" rx="0.55" fill="#114a8c"/>
<rect x="321.3" y="284.08" width="2.2" height="2.05" rx="0.55" fill="#114a8c"/>
<rect x="322.8" y="285.78" width="2.2" height="2.05" rx="0.55" fill="#114a8c"/>
<rect x="335" y="285.58" width="2.2" height="2.05" rx="0.55" fill="#114a8c"/>
<rect x="345.6" y="286.88" width="2.2" height="2.05" rx="0.55" fill="#114a8c"/>
<rect x="328.6" y="288.68" width="2.2" height="2.05" rx="0.55" fill="#114a8c"/>
<rect x="324.9" y="291.98" width="2.2" height="2.05" rx="0.55" fill="#114a8c"/>
<rect x="310.3" y="289.78" width="2.2" height="2.05" rx="0.55" fill="#114a8c"/>
<rect x="317.3" y="294.68" width="2.2" height="2.05" rx="0.55" fill="#114a8c"/>
<rect x="321.3" y="297.08" width="2.2" height="2.05" rx="0.55" fill="#114a8c"/>
<rect x="328.1" y="297.08" width="2.2" height="2.05" rx="0.55" fill="#114a8c"/>
<rect x="349.6" y="297.98" width="2.2" height="2.05" rx="0.55" fill="#114a8c"/>
<rect x="329.5" y="306.18" width="2.2" height="2.05" rx="0.55" fill="#114a8c"/>
<rect x="319.8" y="315.68" width="2.2" height="2.05" rx="0.55" fill="#114a8c"/>
<rect x="327.7" y="313.88" width="2.2" height="2.05" rx="0.55" fill="#114a8c"/>
<rect x="341.4" y="312.58" width="2.2" height="2.05" rx="0.55" fill="#114a8c"/>
<rect x="343.8" y="313.88" width="2.2" height="2.05" rx="0.55" fill="#114a8c"/>
<rect x="349.2" y="312.08" width="2.2" height="2.05" rx="0.55" fill="#114a8c"/>
<rect x="321.3" y="328.38" width="2.2" height="2.05" rx="0.55" fill="#114a8c"/>
<rect x="324.3" y="328.38" width="2.2" height="2.05" rx="0.55" fill="#114a8c"/>
<rect x="343.7" y="325.48" width="2.2" height="2.05" rx="0.55" fill="#114a8c"/>
<rect x="334.6" y="330.68" width="2.2" height="2.05" rx="0.55" fill="#114a8c"/>
<rect x="340.8" y="330.68" width="2.2" height="2.05" rx="0.55" fill="#114a8c"/>
<rect x="348.8" y="331.88" width="2.2" height="2.05" rx="0.55" fill="#114a8c"/>
<rect x="352.6" y="334.58" width="2.2" height="2.05" rx="0.55" fill="#114a8c"/>
<rect x="357.9" y="335.98" width="2.2" height="2.05" rx="0.55" fill="#114a8c"/>
<rect x="369.3" y="328.38" width="2.2" height="2.05" rx="0.55" fill="#114a8c"/>
<rect x="373.4" y="331.88" width="2.2" height="2.05" rx="0.55" fill="#114a8c"/>
<rect x="326.6" y="337.58" width="2.2" height="2.05" rx="0.55" fill="#114a8c"/>
<rect x="338.5" y="336.88" width="2.2" height="2.05" rx="0.55" fill="#114a8c"/>
<rect x="340.8" y="336.88" width="2.2" height="2.05" rx="0.55" fill="#114a8c"/>
<rect x="367.7" y="338.68" width="2.2" height="2.05" rx="0.55" fill="#114a8c"/>
<rect x="371.2" y="338.68" width="2.2" height="2.05" rx="0.55" fill="#114a8c"/>
<rect x="315.2" y="342.78" width="2.2" height="2.05" rx="0.55" fill="#114a8c"/>
<rect x="319.7" y="343.68" width="2.2" height="2.05" rx="0.55" fill="#114a8c"/>
<rect x="345.3" y="340.98" width="2.2" height="2.05" rx="0.55" fill="#114a8c"/>
<rect x="351.5" y="342.78" width="2.2" height="2.05" rx="0.55" fill="#114a8c"/>
<rect x="332.3" y="345.08" width="2.2" height="2.05" rx="0.55" fill="#114a8c"/>
<rect x="336.2" y="343.68" width="2.2" height="2.05" rx="0.55" fill="#114a8c"/>
<rect x="351" y="346.68" width="2.2" height="2.05" rx="0.55" fill="#114a8c"/>
<rect x="355.6" y="348.28" width="2.2" height="2.05" rx="0.55" fill="#114a8c"/>
<rect x="317.4" y="352.38" width="2.2" height="2.05" rx="0.55" fill="#114a8c"/>
<rect x="336.9" y="350.58" width="2.2" height="2.05" rx="0.55" fill="#114a8c"/>
<rect x="341.4" y="351.68" width="2.2" height="2.05" rx="0.55" fill="#114a8c"/>
<rect x="335.7" y="355.38" width="2.2" height="2.05" rx="0.55" fill="#114a8c"/>
<rect x="338" y="354.28" width="2.2" height="2.05" rx="0.55" fill="#114a8c"/>
<rect x="356.8" y="352.38" width="2.2" height="2.05" rx="0.55" fill="#114a8c"/>
<rect x="364.8" y="357.48" width="2.2" height="2.05" rx="0.55" fill="#114a8c"/>
<rect x="339.2" y="363.88" width="2.2" height="2.05" rx="0.55" fill="#114a8c"/>
<rect x="341.4" y="361.98" width="2.2" height="2.05" rx="0.55" fill="#114a8c"/>
<rect x="344.6" y="363.38" width="2.2" height="2.05" rx="0.55" fill="#114a8c"/>
<rect x="347.6" y="363.88" width="2.2" height="2.05" rx="0.55" fill="#114a8c"/>
<rect x="352.2" y="360.38" width="2.2" height="2.05" rx="0.55" fill="#114a8c"/>
<rect x="356.8" y="359.68" width="2.2" height="2.05" rx="0.55" fill="#114a8c"/>
<rect x="360.9" y="366.58" width="2.2" height="2.05" rx="0.55" fill="#114a8c"/>
<rect x="362.9" y="369.58" width="2.2" height="2.05" rx="0.55" fill="#114a8c"/>
<rect x="365.9" y="371.88" width="2.2" height="2.05" rx="0.55" fill="#114a8c"/>
<rect x="339.2" y="375.28" width="2.2" height="2.05" rx="0.55" fill="#114a8c"/>
<rect x="353.8" y="375.28" width="2.2" height="2.05" rx="0.55" fill="#114a8c"/>
<rect x="360.6" y="374.78" width="2.2" height="2.05" rx="0.55" fill="#114a8c"/>
<rect x="357.9" y="377.98" width="2.2" height="2.05" rx="0.55" fill="#114a8c"/>
<rect x="339.2" y="381.68" width="2.2" height="2.05" rx="0.55" fill="#114a8c"/>
<rect x="342.4" y="381.68" width="2.2" height="2.05" rx="0.55" fill="#114a8c"/>
<rect x="373.4" y="382.58" width="2.2" height="2.05" rx="0.55" fill="#114a8c"/>
<rect x="340.8" y="386.68" width="2.2" height="2.05" rx="0.55" fill="#114a8c"/>
<rect x="351" y="387.88" width="2.2" height="2.05" rx="0.55" fill="#114a8c"/>
<rect x="359.7" y="386.28" width="2.2" height="2.05" rx="0.55" fill="#114a8c"/>
<rect x="362.5" y="387.88" width="2.2" height="2.05" rx="0.55" fill="#114a8c"/>
<rect x="317.4" y="388.48" width="2.2" height="2.05" rx="0.55" fill="#114a8c"/>
<rect x="352.9" y="389.48" width="2.2" height="2.05" rx="0.55" fill="#114a8c"/>
<rect x="354.9" y="388.98" width="2.2" height="2.05" rx="0.55" fill="#114a8c"/>
<rect x="351.7" y="391.28" width="2.2" height="2.05" rx="0.55" fill="#114a8c"/>
<rect x="365.4" y="391.68" width="2.2" height="2.05" rx="0.55" fill="#114a8c"/>
<rect x="336.9" y="393.08" width="2.2" height="2.05" rx="0.55" fill="#114a8c"/>
<rect x="352.2" y="393.98" width="2.2" height="2.05" rx="0.55" fill="#114a8c"/>
<rect x="328.9" y="403.38" width="2.2" height="2.05" rx="0.55" fill="#114a8c"/>
<rect x="371.2" y="403.38" width="2.2" height="2.05" rx="0.55" fill="#114a8c"/>
<rect x="388" y="301.28" width="2.2" height="2.05" rx="0.55" fill="#114a8c"/>
<rect x="385.3" y="310.88" width="2.2" height="2.05" rx="0.55" fill="#114a8c"/>
<rect x="383.9" y="349.68" width="2.2" height="2.05" rx="0.55" fill="#114a8c"/>
<rect x="388" y="347.18" width="2.2" height="2.05" rx="0.55" fill="#114a8c"/>
<rect x="384.8" y="352.68" width="2.2" height="2.05" rx="0.55" fill="#114a8c"/>
<rect x="422.2" y="354.08" width="2.2" height="2.05" rx="0.55" fill="#114a8c"/>
<rect x="469.2" y="357.48" width="2.2" height="2.05" rx="0.55" fill="#114a8c"/>
<rect x="374.9" y="362.78" width="2.2" height="2.05" rx="0.55" fill="#114a8c"/>
<rect x="386.1" y="365.58" width="2.2" height="2.05" rx="0.55" fill="#114a8c"/>
<rect x="388.9" y="364.98" width="2.2" height="2.05" rx="0.55" fill="#114a8c"/>
<rect x="388.9" y="362.78" width="2.2" height="2.05" rx="0.55" fill="#114a8c"/>
<rect x="427.1" y="364.18" width="2.2" height="2.05" rx="0.55" fill="#114a8c"/>
<rect x="427.1" y="368.28" width="2.2" height="2.05" rx="0.55" fill="#114a8c"/>
<rect x="378.5" y="373.78" width="2.2" height="2.05" rx="0.55" fill="#114a8c"/>
<rect x="379.8" y="386.88" width="2.2" height="2.05" rx="0.55" fill="#114a8c"/>
<rect x="383.9" y="396.48" width="2.2" height="2.05" rx="0.55" fill="#114a8c"/>
<rect x="482.4" y="246.78" width="2.2" height="2.05" rx="0.55" fill="#114a8c"/>
<rect x="310.5" y="324.18" width="2.2" height="2.05" rx="0.55" fill="#114a8c"/>
<rect x="310.5" y="326.48" width="2.2" height="2.05" rx="0.55" fill="#114a8c"/>
<rect x="310.5" y="328.58" width="2.2" height="2.05" rx="0.55" fill="#114a8c"/>
<rect x="310.5" y="330.48" width="2.2" height="2.05" rx="0.55" fill="#114a8c"/>
<rect x="310.5" y="332.38" width="2.2" height="2.05" rx="0.55" fill="#114a8c"/>
<rect x="310.5" y="338.98" width="2.2" height="2.05" rx="0.55" fill="#114a8c"/>
<rect x="310.5" y="341.48" width="2.2" height="2.05" rx="0.55" fill="#114a8c"/>
<rect x="310.5" y="354.38" width="2.2" height="2.05" rx="0.55" fill="#114a8c"/>
<rect x="310.5" y="366.98" width="2.2" height="2.05" rx="0.55" fill="#114a8c"/>
<rect x="310.5" y="375.88" width="2.2" height="2.05" rx="0.55" fill="#114a8c"/>
<rect x="310.5" y="379.58" width="2.2" height="2.05" rx="0.55" fill="#114a8c"/>
<rect x="310.5" y="381.78" width="2.2" height="2.05" rx="0.55" fill="#114a8c"/>
<rect x="310.5" y="403.58" width="2.2" height="2.05" rx="0.55" fill="#114a8c"/>
<polyline points="311.57,266.9 311.63,267.41 311.76,268.43 311.93,269.8 312.14,271.42 312.39,273.26 312.67,275.26 312.98,277.39 313.32,279.61 313.68,281.91 314.07,284.25 314.49,286.63 314.92,289.01 315.38,291.4 315.86,293.77 316.36,296.11 316.89,298.43 317.43,300.7 317.99,302.93 318.57,305.12 319.17,307.25 319.79,309.33 320.42,311.35 321.08,313.31 321.75,315.22 322.43,317.07 323.14,318.87 323.86,320.6 324.59,322.29 325.35,323.91 326.12,325.49 326.9,327.01 327.7,328.48 328.51,329.9 329.34,331.27 330.19,332.59 331.04,333.87 331.92,335.11 332.8,336.3 333.7,337.46 334.62,338.57 335.55,339.65 336.49,340.69 337.45,341.69 338.42,342.67 339.4,343.61 340.4,344.51 341.41,345.39 342.43,346.24 343.46,347.07 344.51,347.86 345.57,348.63 346.65,349.38 347.73,350.1 348.83,350.8 349.94,351.47 351.06,352.13 352.2,352.77 353.34,353.38 354.5,353.98 355.67,354.56 356.85,355.12 358.05,355.67 359.25,356.2 360.47,356.71 361.7,357.21 362.94,357.7 364.19,358.17 365.45,358.63 366.73,359.07 368.01,359.51 369.31,359.93 370.61,360.34 371.93,360.73 373.26,361.12 374.6,361.5 375.95,361.87 377.31,362.22 378.68,362.57 380.06,362.91 381.46,363.24 382.86,363.57 384.27,363.88 385.7,364.19 387.13,364.48 388.57,364.78 390.03,365.06 391.49,365.34 392.97,365.61 394.45,365.87 395.95,366.13 397.45,366.38 398.97,366.63 400.49,366.87 402.03,367.1 403.57,367.33 405.13,367.56 406.69,367.78 408.27,367.99 409.85,368.2 411.44,368.41 413.05,368.61 414.66,368.8 416.28,369 417.91,369.18 419.55,369.37 421.2,369.55 422.86,369.73 424.53,369.9 426.21,370.07 427.9,370.23 429.59,370.4 431.3,370.55 433.01,370.71 434.74,370.86 436.47,371.01 438.21,371.16 439.97,371.3 441.73,371.45 443.5,371.58 445.27,371.72 447.06,371.85 448.86,371.98 450.66,372.11 452.48,372.24 454.3,372.36 456.13,372.48 457.97,372.6 459.82,372.72 461.68,372.84 463.54,372.95 465.42,373.06 467.3,373.17 469.19,373.28 471.09,373.38 473,373.48 474.92,373.59 476.85,373.69 478.78,373.78 480.72,373.88 482.68,373.98" fill="none" stroke="#0e4a86" stroke-width="1.6" stroke-linejoin="round"/>
<rect x="380.39" y="245.78" width="2.62" height="2.44" rx="0.55" fill="#114a8c"/>
<text x="387.5" y="250" font-size="8.5" textLength="35.7" lengthAdjust="spacingAndGlyphs" fill="#231f20" stroke="#231f20" stroke-width="0.12">Ticagrelor</text>
<rect x="380.39" y="256.28" width="2.62" height="2.44" rx="0.55" fill="#c8102e"/>
<text x="387.5" y="260.6" font-size="8.5" textLength="28.4" lengthAdjust="spacingAndGlyphs" fill="#231f20" stroke="#231f20" stroke-width="0.12">Placebo</text>
<rect x="0" y="0" width="520" height="1.35" fill="#000"/><rect x="0" y="0" width="1.2" height="438" fill="#000"/><rect x="518.7" y="0" width="1.3" height="438" fill="#000"/><rect x="0" y="436.5" width="520" height="1.5" fill="#000"/>
</svg>
</body></html>
